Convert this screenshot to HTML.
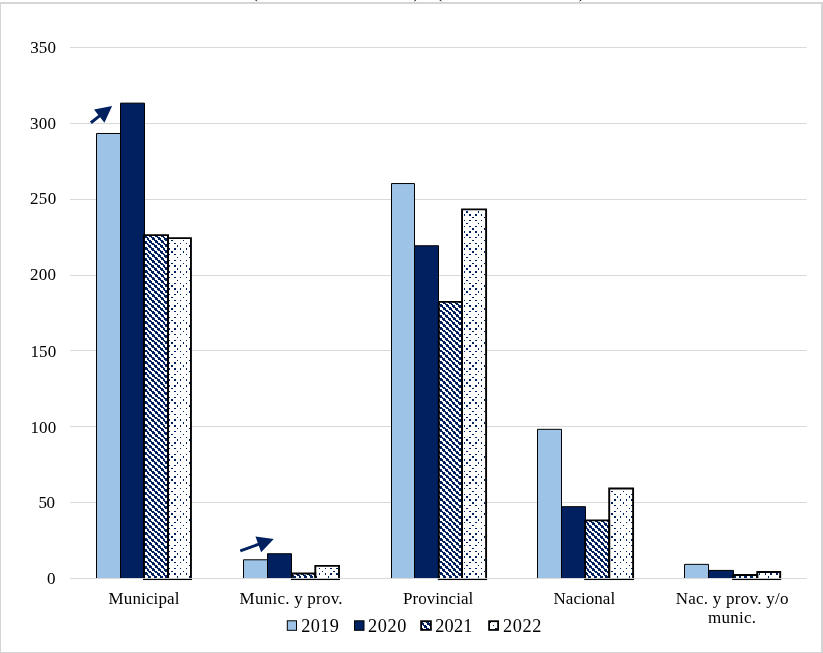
<!DOCTYPE html>
<html lang="es"><head><meta charset="utf-8"><title>Gráfico</title>
<style>
html,body{margin:0;padding:0;background:#fff;}
body{width:823px;height:653px;overflow:hidden;}
svg{display:block;}
text{font-family:"Liberation Serif","Times New Roman",serif;fill:#000;}
</style></head><body>
<svg width="823" height="653" viewBox="0 0 823 653">


<rect x="0" y="0" width="823" height="653" fill="#fff"/>
<g fill="#d5d5d5"><rect x="0" y="2" width="823" height="2"/><rect x="0" y="2" width="1" height="651"/><rect x="821" y="2" width="2" height="651"/><rect x="0" y="652" width="823" height="1"/></g>

<rect x="70" y="578" width="736.7" height="1" fill="#d9d9d9"/>
<text x="46.9" y="584" font-size="17">0</text>
<rect x="70" y="502" width="736.7" height="1" fill="#d9d9d9"/>
<text x="38.40" y="508.00" font-size="17" textLength="16.60" lengthAdjust="spacing">50</text>
<rect x="70" y="426" width="736.7" height="1" fill="#d9d9d9"/>
<text x="30.40" y="433.00" font-size="17" textLength="25.80" lengthAdjust="spacing">100</text>
<rect x="70" y="350" width="736.7" height="1" fill="#d9d9d9"/>
<text x="30.40" y="357.00" font-size="17" textLength="25.80" lengthAdjust="spacing">150</text>
<rect x="70" y="275" width="736.7" height="1" fill="#d9d9d9"/>
<text x="29.90" y="280.00" font-size="17" textLength="26.20" lengthAdjust="spacing">200</text>
<rect x="70" y="199" width="736.7" height="1" fill="#d9d9d9"/>
<text x="29.90" y="204.00" font-size="17" textLength="26.30" lengthAdjust="spacing">250</text>
<rect x="70" y="123" width="736.7" height="1" fill="#d9d9d9"/>
<text x="30.10" y="129.00" font-size="17" textLength="26.00" lengthAdjust="spacing">300</text>
<rect x="70" y="47" width="736.7" height="1" fill="#d9d9d9"/>
<text x="30.20" y="53.00" font-size="17" textLength="25.80" lengthAdjust="spacing">350</text>
<rect x="96.5" y="133.48" width="24" height="444.52" fill="#9dc3e6"/>
<rect x="120.5" y="103.13" width="24.0" height="474.87" fill="#002060"/>
<path d="M96.5,578 V133.48 H120.5 V578" fill="none" stroke="#000" stroke-width="1"/>
<path d="M120.5,578 V103.13 H144.5 V578" fill="none" stroke="#000" stroke-width="1"/>
<rect x="144.0" y="235.13" width="24.05" height="342.87" fill="#fff"/>
<path fill="#002060" shape-rendering="crispEdges" d="M144 235h1v1h-1zM148 235h3v1h-3zM154 235h3v1h-3zM160 235h3v1h-3zM165 235h3v1h-3zM144 236h3v1h-3zM149 236h3v1h-3zM155 236h3v1h-3zM161 236h3v1h-3zM167 236h2v1h-2zM145 237h3v1h-3zM151 237h3v1h-3zM157 237h3v1h-3zM163 237h2v1h-2zM168 237h1v1h-1zM147 238h2v2h-2zM152 238h3v2h-3zM158 238h3v2h-3zM164 238h3v2h-3zM144 240h1v1h-1zM148 240h3v1h-3zM154 240h3v1h-3zM160 240h3v1h-3zM165 240h3v1h-3zM144 241h3v2h-3zM149 241h3v2h-3zM155 241h3v2h-3zM161 241h3v2h-3zM167 241h2v2h-2zM145 243h3v1h-3zM151 243h3v1h-3zM157 243h3v1h-3zM163 243h2v1h-2zM168 243h1v1h-1zM147 244h2v1h-2zM152 244h3v1h-3zM158 244h3v1h-3zM164 244h3v1h-3zM144 245h1v2h-1zM148 245h3v2h-3zM154 245h3v2h-3zM160 245h3v2h-3zM165 245h3v2h-3zM144 247h3v1h-3zM149 247h3v1h-3zM155 247h3v1h-3zM161 247h3v1h-3zM167 247h2v1h-2zM145 248h3v2h-3zM151 248h3v2h-3zM157 248h3v2h-3zM163 248h2v2h-2zM168 248h1v2h-1zM147 250h2v1h-2zM152 250h3v1h-3zM158 250h3v1h-3zM164 250h3v1h-3zM144 251h1v2h-1zM148 251h3v2h-3zM154 251h3v2h-3zM160 251h3v2h-3zM165 251h3v2h-3zM144 253h3v1h-3zM149 253h3v1h-3zM155 253h3v1h-3zM161 253h3v1h-3zM167 253h2v1h-2zM145 254h3v1h-3zM151 254h3v1h-3zM157 254h3v1h-3zM163 254h2v1h-2zM168 254h1v1h-1zM147 255h2v2h-2zM152 255h3v2h-3zM158 255h3v2h-3zM164 255h3v2h-3zM144 257h1v1h-1zM148 257h3v1h-3zM154 257h3v1h-3zM160 257h3v1h-3zM165 257h3v1h-3zM144 258h3v2h-3zM149 258h3v2h-3zM155 258h3v2h-3zM161 258h3v2h-3zM167 258h2v2h-2zM145 260h3v1h-3zM151 260h3v1h-3zM157 260h3v1h-3zM163 260h2v1h-2zM168 260h1v1h-1zM147 261h2v2h-2zM152 261h3v2h-3zM158 261h3v2h-3zM164 261h3v2h-3zM144 263h1v1h-1zM148 263h3v1h-3zM154 263h3v1h-3zM160 263h3v1h-3zM165 263h3v1h-3zM144 264h3v1h-3zM149 264h3v1h-3zM155 264h3v1h-3zM161 264h3v1h-3zM167 264h2v1h-2zM145 265h3v2h-3zM151 265h3v2h-3zM157 265h3v2h-3zM163 265h2v2h-2zM168 265h1v2h-1zM147 267h2v1h-2zM152 267h3v1h-3zM158 267h3v1h-3zM164 267h3v1h-3zM144 268h1v2h-1zM148 268h3v2h-3zM154 268h3v2h-3zM160 268h3v2h-3zM165 268h3v2h-3zM144 270h3v1h-3zM149 270h3v1h-3zM155 270h3v1h-3zM161 270h3v1h-3zM167 270h2v1h-2zM145 271h3v2h-3zM151 271h3v2h-3zM157 271h3v2h-3zM163 271h2v2h-2zM168 271h1v2h-1zM147 273h2v1h-2zM152 273h3v1h-3zM158 273h3v1h-3zM164 273h3v1h-3zM144 274h1v1h-1zM148 274h3v1h-3zM154 274h3v1h-3zM160 274h3v1h-3zM165 274h3v1h-3zM144 275h3v2h-3zM149 275h3v2h-3zM155 275h3v2h-3zM161 275h3v2h-3zM167 275h2v2h-2zM145 277h3v1h-3zM151 277h3v1h-3zM157 277h3v1h-3zM163 277h2v1h-2zM168 277h1v1h-1zM147 278h2v2h-2zM152 278h3v2h-3zM158 278h3v2h-3zM164 278h3v2h-3zM144 280h1v1h-1zM148 280h3v1h-3zM154 280h3v1h-3zM160 280h3v1h-3zM165 280h3v1h-3zM144 281h3v2h-3zM149 281h3v2h-3zM155 281h3v2h-3zM161 281h3v2h-3zM167 281h2v2h-2zM145 283h3v1h-3zM151 283h3v1h-3zM157 283h3v1h-3zM163 283h2v1h-2zM168 283h1v1h-1zM147 284h2v1h-2zM152 284h3v1h-3zM158 284h3v1h-3zM164 284h3v1h-3zM144 285h1v2h-1zM148 285h3v2h-3zM154 285h3v2h-3zM160 285h3v2h-3zM165 285h3v2h-3zM144 287h3v1h-3zM149 287h3v1h-3zM155 287h3v1h-3zM161 287h3v1h-3zM167 287h2v1h-2zM145 288h3v2h-3zM151 288h3v2h-3zM157 288h3v2h-3zM163 288h2v2h-2zM168 288h1v2h-1zM147 290h2v1h-2zM152 290h3v1h-3zM158 290h3v1h-3zM164 290h3v1h-3zM144 291h1v2h-1zM148 291h3v2h-3zM154 291h3v2h-3zM160 291h3v2h-3zM165 291h3v2h-3zM144 293h3v1h-3zM149 293h3v1h-3zM155 293h3v1h-3zM161 293h3v1h-3zM167 293h2v1h-2zM145 294h3v1h-3zM151 294h3v1h-3zM157 294h3v1h-3zM163 294h2v1h-2zM168 294h1v1h-1zM147 295h2v2h-2zM152 295h3v2h-3zM158 295h3v2h-3zM164 295h3v2h-3zM144 297h1v1h-1zM148 297h3v1h-3zM154 297h3v1h-3zM160 297h3v1h-3zM165 297h3v1h-3zM144 298h3v2h-3zM149 298h3v2h-3zM155 298h3v2h-3zM161 298h3v2h-3zM167 298h2v2h-2zM145 300h3v1h-3zM151 300h3v1h-3zM157 300h3v1h-3zM163 300h2v1h-2zM168 300h1v1h-1zM147 301h2v2h-2zM152 301h3v2h-3zM158 301h3v2h-3zM164 301h3v2h-3zM144 303h1v1h-1zM148 303h3v1h-3zM154 303h3v1h-3zM160 303h3v1h-3zM165 303h3v1h-3zM144 304h3v1h-3zM149 304h3v1h-3zM155 304h3v1h-3zM161 304h3v1h-3zM167 304h2v1h-2zM145 305h3v2h-3zM151 305h3v2h-3zM157 305h3v2h-3zM163 305h2v2h-2zM168 305h1v2h-1zM147 307h2v1h-2zM152 307h3v1h-3zM158 307h3v1h-3zM164 307h3v1h-3zM144 308h1v2h-1zM148 308h3v2h-3zM154 308h3v2h-3zM160 308h3v2h-3zM165 308h3v2h-3zM144 310h3v1h-3zM149 310h3v1h-3zM155 310h3v1h-3zM161 310h3v1h-3zM167 310h2v1h-2zM145 311h3v1h-3zM151 311h3v1h-3zM157 311h3v1h-3zM163 311h2v1h-2zM168 311h1v1h-1zM147 312h2v2h-2zM152 312h3v2h-3zM158 312h3v2h-3zM164 312h3v2h-3zM144 314h1v1h-1zM148 314h3v1h-3zM154 314h3v1h-3zM160 314h3v1h-3zM165 314h3v1h-3zM144 315h3v2h-3zM149 315h3v2h-3zM155 315h3v2h-3zM161 315h3v2h-3zM167 315h2v2h-2zM145 317h3v1h-3zM151 317h3v1h-3zM157 317h3v1h-3zM163 317h2v1h-2zM168 317h1v1h-1zM147 318h2v2h-2zM152 318h3v2h-3zM158 318h3v2h-3zM164 318h3v2h-3zM144 320h1v1h-1zM148 320h3v1h-3zM154 320h3v1h-3zM160 320h3v1h-3zM165 320h3v1h-3zM144 321h3v1h-3zM149 321h3v1h-3zM155 321h3v1h-3zM161 321h3v1h-3zM167 321h2v1h-2zM145 322h3v2h-3zM151 322h3v2h-3zM157 322h3v2h-3zM163 322h2v2h-2zM168 322h1v2h-1zM147 324h2v1h-2zM152 324h3v1h-3zM158 324h3v1h-3zM164 324h3v1h-3zM144 325h1v2h-1zM148 325h3v2h-3zM154 325h3v2h-3zM160 325h3v2h-3zM165 325h3v2h-3zM144 327h3v1h-3zM149 327h3v1h-3zM155 327h3v1h-3zM161 327h3v1h-3zM167 327h2v1h-2zM145 328h3v2h-3zM151 328h3v2h-3zM157 328h3v2h-3zM163 328h2v2h-2zM168 328h1v2h-1zM147 330h2v1h-2zM152 330h3v1h-3zM158 330h3v1h-3zM164 330h3v1h-3zM144 331h1v1h-1zM148 331h3v1h-3zM154 331h3v1h-3zM160 331h3v1h-3zM165 331h3v1h-3zM144 332h3v2h-3zM149 332h3v2h-3zM155 332h3v2h-3zM161 332h3v2h-3zM167 332h2v2h-2zM145 334h3v1h-3zM151 334h3v1h-3zM157 334h3v1h-3zM163 334h2v1h-2zM168 334h1v1h-1zM147 335h2v2h-2zM152 335h3v2h-3zM158 335h3v2h-3zM164 335h3v2h-3zM144 337h1v1h-1zM148 337h3v1h-3zM154 337h3v1h-3zM160 337h3v1h-3zM165 337h3v1h-3zM144 338h3v2h-3zM149 338h3v2h-3zM155 338h3v2h-3zM161 338h3v2h-3zM167 338h2v2h-2zM145 340h3v1h-3zM151 340h3v1h-3zM157 340h3v1h-3zM163 340h2v1h-2zM168 340h1v1h-1zM147 341h2v1h-2zM152 341h3v1h-3zM158 341h3v1h-3zM164 341h3v1h-3zM144 342h1v2h-1zM148 342h3v2h-3zM154 342h3v2h-3zM160 342h3v2h-3zM165 342h3v2h-3zM144 344h3v1h-3zM149 344h3v1h-3zM155 344h3v1h-3zM161 344h3v1h-3zM167 344h2v1h-2zM145 345h3v2h-3zM151 345h3v2h-3zM157 345h3v2h-3zM163 345h2v2h-2zM168 345h1v2h-1zM147 347h2v1h-2zM152 347h3v1h-3zM158 347h3v1h-3zM164 347h3v1h-3zM144 348h1v2h-1zM148 348h3v2h-3zM154 348h3v2h-3zM160 348h3v2h-3zM165 348h3v2h-3zM144 350h3v1h-3zM149 350h3v1h-3zM155 350h3v1h-3zM161 350h3v1h-3zM167 350h2v1h-2zM145 351h3v1h-3zM151 351h3v1h-3zM157 351h3v1h-3zM163 351h2v1h-2zM168 351h1v1h-1zM147 352h2v2h-2zM152 352h3v2h-3zM158 352h3v2h-3zM164 352h3v2h-3zM144 354h1v1h-1zM148 354h3v1h-3zM154 354h3v1h-3zM160 354h3v1h-3zM165 354h3v1h-3zM144 355h3v2h-3zM149 355h3v2h-3zM155 355h3v2h-3zM161 355h3v2h-3zM167 355h2v2h-2zM145 357h3v1h-3zM151 357h3v1h-3zM157 357h3v1h-3zM163 357h2v1h-2zM168 357h1v1h-1zM147 358h2v2h-2zM152 358h3v2h-3zM158 358h3v2h-3zM164 358h3v2h-3zM144 360h1v1h-1zM148 360h3v1h-3zM154 360h3v1h-3zM160 360h3v1h-3zM165 360h3v1h-3zM144 361h3v1h-3zM149 361h3v1h-3zM155 361h3v1h-3zM161 361h3v1h-3zM167 361h2v1h-2zM145 362h3v2h-3zM151 362h3v2h-3zM157 362h3v2h-3zM163 362h2v2h-2zM168 362h1v2h-1zM147 364h2v1h-2zM152 364h3v1h-3zM158 364h3v1h-3zM164 364h3v1h-3zM144 365h1v2h-1zM148 365h3v2h-3zM154 365h3v2h-3zM160 365h3v2h-3zM165 365h3v2h-3zM144 367h3v1h-3zM149 367h3v1h-3zM155 367h3v1h-3zM161 367h3v1h-3zM167 367h2v1h-2zM145 368h3v2h-3zM151 368h3v2h-3zM157 368h3v2h-3zM163 368h2v2h-2zM168 368h1v2h-1zM147 370h2v1h-2zM152 370h3v1h-3zM158 370h3v1h-3zM164 370h3v1h-3zM144 371h1v1h-1zM148 371h3v1h-3zM154 371h3v1h-3zM160 371h3v1h-3zM165 371h3v1h-3zM144 372h3v2h-3zM149 372h3v2h-3zM155 372h3v2h-3zM161 372h3v2h-3zM167 372h2v2h-2zM145 374h3v1h-3zM151 374h3v1h-3zM157 374h3v1h-3zM163 374h2v1h-2zM168 374h1v1h-1zM147 375h2v2h-2zM152 375h3v2h-3zM158 375h3v2h-3zM164 375h3v2h-3zM144 377h1v1h-1zM148 377h3v1h-3zM154 377h3v1h-3zM160 377h3v1h-3zM165 377h3v1h-3zM144 378h3v1h-3zM149 378h3v1h-3zM155 378h3v1h-3zM161 378h3v1h-3zM167 378h2v1h-2zM145 379h3v2h-3zM151 379h3v2h-3zM157 379h3v2h-3zM163 379h2v2h-2zM168 379h1v2h-1zM147 381h2v1h-2zM152 381h3v1h-3zM158 381h3v1h-3zM164 381h3v1h-3zM144 382h1v2h-1zM148 382h3v2h-3zM154 382h3v2h-3zM160 382h3v2h-3zM165 382h3v2h-3zM144 384h3v1h-3zM149 384h3v1h-3zM155 384h3v1h-3zM161 384h3v1h-3zM167 384h2v1h-2zM145 385h3v2h-3zM151 385h3v2h-3zM157 385h3v2h-3zM163 385h2v2h-2zM168 385h1v2h-1zM147 387h2v1h-2zM152 387h3v1h-3zM158 387h3v1h-3zM164 387h3v1h-3zM144 388h1v1h-1zM148 388h3v1h-3zM154 388h3v1h-3zM160 388h3v1h-3zM165 388h3v1h-3zM144 389h3v2h-3zM149 389h3v2h-3zM155 389h3v2h-3zM161 389h3v2h-3zM167 389h2v2h-2zM145 391h3v1h-3zM151 391h3v1h-3zM157 391h3v1h-3zM163 391h2v1h-2zM168 391h1v1h-1zM147 392h2v2h-2zM152 392h3v2h-3zM158 392h3v2h-3zM164 392h3v2h-3zM144 394h1v1h-1zM148 394h3v1h-3zM154 394h3v1h-3zM160 394h3v1h-3zM165 394h3v1h-3zM144 395h3v2h-3zM149 395h3v2h-3zM155 395h3v2h-3zM161 395h3v2h-3zM167 395h2v2h-2zM145 397h3v1h-3zM151 397h3v1h-3zM157 397h3v1h-3zM163 397h2v1h-2zM168 397h1v1h-1zM147 398h2v1h-2zM152 398h3v1h-3zM158 398h3v1h-3zM164 398h3v1h-3zM144 399h1v2h-1zM148 399h3v2h-3zM154 399h3v2h-3zM160 399h3v2h-3zM165 399h3v2h-3zM144 401h3v1h-3zM149 401h3v1h-3zM155 401h3v1h-3zM161 401h3v1h-3zM167 401h2v1h-2zM145 402h3v2h-3zM151 402h3v2h-3zM157 402h3v2h-3zM163 402h2v2h-2zM168 402h1v2h-1zM147 404h2v1h-2zM152 404h3v1h-3zM158 404h3v1h-3zM164 404h3v1h-3zM144 405h1v2h-1zM148 405h3v2h-3zM154 405h3v2h-3zM160 405h3v2h-3zM165 405h3v2h-3zM144 407h3v1h-3zM149 407h3v1h-3zM155 407h3v1h-3zM161 407h3v1h-3zM167 407h2v1h-2zM145 408h3v1h-3zM151 408h3v1h-3zM157 408h3v1h-3zM163 408h2v1h-2zM168 408h1v1h-1zM147 409h2v2h-2zM152 409h3v2h-3zM158 409h3v2h-3zM164 409h3v2h-3zM144 411h1v1h-1zM148 411h3v1h-3zM154 411h3v1h-3zM160 411h3v1h-3zM165 411h3v1h-3zM144 412h3v2h-3zM149 412h3v2h-3zM155 412h3v2h-3zM161 412h3v2h-3zM167 412h2v2h-2zM145 414h3v1h-3zM151 414h3v1h-3zM157 414h3v1h-3zM163 414h2v1h-2zM168 414h1v1h-1zM147 415h2v2h-2zM152 415h3v2h-3zM158 415h3v2h-3zM164 415h3v2h-3zM144 417h1v1h-1zM148 417h3v1h-3zM154 417h3v1h-3zM160 417h3v1h-3zM165 417h3v1h-3zM144 418h3v1h-3zM149 418h3v1h-3zM155 418h3v1h-3zM161 418h3v1h-3zM167 418h2v1h-2zM145 419h3v2h-3zM151 419h3v2h-3zM157 419h3v2h-3zM163 419h2v2h-2zM168 419h1v2h-1zM147 421h2v1h-2zM152 421h3v1h-3zM158 421h3v1h-3zM164 421h3v1h-3zM144 422h1v2h-1zM148 422h3v2h-3zM154 422h3v2h-3zM160 422h3v2h-3zM165 422h3v2h-3zM144 424h3v1h-3zM149 424h3v1h-3zM155 424h3v1h-3zM161 424h3v1h-3zM167 424h2v1h-2zM145 425h3v2h-3zM151 425h3v2h-3zM157 425h3v2h-3zM163 425h2v2h-2zM168 425h1v2h-1zM147 427h2v1h-2zM152 427h3v1h-3zM158 427h3v1h-3zM164 427h3v1h-3zM144 428h1v1h-1zM148 428h3v1h-3zM154 428h3v1h-3zM160 428h3v1h-3zM165 428h3v1h-3zM144 429h3v2h-3zM149 429h3v2h-3zM155 429h3v2h-3zM161 429h3v2h-3zM167 429h2v2h-2zM145 431h3v1h-3zM151 431h3v1h-3zM157 431h3v1h-3zM163 431h2v1h-2zM168 431h1v1h-1zM147 432h2v2h-2zM152 432h3v2h-3zM158 432h3v2h-3zM164 432h3v2h-3zM144 434h1v1h-1zM148 434h3v1h-3zM154 434h3v1h-3zM160 434h3v1h-3zM165 434h3v1h-3zM144 435h3v2h-3zM149 435h3v2h-3zM155 435h3v2h-3zM161 435h3v2h-3zM167 435h2v2h-2zM145 437h3v1h-3zM151 437h3v1h-3zM157 437h3v1h-3zM163 437h2v1h-2zM168 437h1v1h-1zM147 438h2v1h-2zM152 438h3v1h-3zM158 438h3v1h-3zM164 438h3v1h-3zM144 439h1v2h-1zM148 439h3v2h-3zM154 439h3v2h-3zM160 439h3v2h-3zM165 439h3v2h-3zM144 441h3v1h-3zM149 441h3v1h-3zM155 441h3v1h-3zM161 441h3v1h-3zM167 441h2v1h-2zM145 442h3v2h-3zM151 442h3v2h-3zM157 442h3v2h-3zM163 442h2v2h-2zM168 442h1v2h-1zM147 444h2v1h-2zM152 444h3v1h-3zM158 444h3v1h-3zM164 444h3v1h-3zM144 445h1v1h-1zM148 445h3v1h-3zM154 445h3v1h-3zM160 445h3v1h-3zM165 445h3v1h-3zM144 446h3v2h-3zM149 446h3v2h-3zM155 446h3v2h-3zM161 446h3v2h-3zM167 446h2v2h-2zM145 448h3v1h-3zM151 448h3v1h-3zM157 448h3v1h-3zM163 448h2v1h-2zM168 448h1v1h-1zM147 449h2v2h-2zM152 449h3v2h-3zM158 449h3v2h-3zM164 449h3v2h-3zM144 451h1v1h-1zM148 451h3v1h-3zM154 451h3v1h-3zM160 451h3v1h-3zM165 451h3v1h-3zM144 452h3v2h-3zM149 452h3v2h-3zM155 452h3v2h-3zM161 452h3v2h-3zM167 452h2v2h-2zM145 454h3v1h-3zM151 454h3v1h-3zM157 454h3v1h-3zM163 454h2v1h-2zM168 454h1v1h-1zM147 455h2v1h-2zM152 455h3v1h-3zM158 455h3v1h-3zM164 455h3v1h-3zM144 456h1v2h-1zM148 456h3v2h-3zM154 456h3v2h-3zM160 456h3v2h-3zM165 456h3v2h-3zM144 458h3v1h-3zM149 458h3v1h-3zM155 458h3v1h-3zM161 458h3v1h-3zM167 458h2v1h-2zM145 459h3v2h-3zM151 459h3v2h-3zM157 459h3v2h-3zM163 459h2v2h-2zM168 459h1v2h-1zM147 461h2v1h-2zM152 461h3v1h-3zM158 461h3v1h-3zM164 461h3v1h-3zM144 462h1v2h-1zM148 462h3v2h-3zM154 462h3v2h-3zM160 462h3v2h-3zM165 462h3v2h-3zM144 464h3v1h-3zM149 464h3v1h-3zM155 464h3v1h-3zM161 464h3v1h-3zM167 464h2v1h-2zM145 465h3v1h-3zM151 465h3v1h-3zM157 465h3v1h-3zM163 465h2v1h-2zM168 465h1v1h-1zM147 466h2v2h-2zM152 466h3v2h-3zM158 466h3v2h-3zM164 466h3v2h-3zM144 468h1v1h-1zM148 468h3v1h-3zM154 468h3v1h-3zM160 468h3v1h-3zM165 468h3v1h-3zM144 469h3v2h-3zM149 469h3v2h-3zM155 469h3v2h-3zM161 469h3v2h-3zM167 469h2v2h-2zM145 471h3v1h-3zM151 471h3v1h-3zM157 471h3v1h-3zM163 471h2v1h-2zM168 471h1v1h-1zM147 472h2v2h-2zM152 472h3v2h-3zM158 472h3v2h-3zM164 472h3v2h-3zM144 474h1v1h-1zM148 474h3v1h-3zM154 474h3v1h-3zM160 474h3v1h-3zM165 474h3v1h-3zM144 475h3v1h-3zM149 475h3v1h-3zM155 475h3v1h-3zM161 475h3v1h-3zM167 475h2v1h-2zM145 476h3v2h-3zM151 476h3v2h-3zM157 476h3v2h-3zM163 476h2v2h-2zM168 476h1v2h-1zM147 478h2v1h-2zM152 478h3v1h-3zM158 478h3v1h-3zM164 478h3v1h-3zM144 479h1v2h-1zM148 479h3v2h-3zM154 479h3v2h-3zM160 479h3v2h-3zM165 479h3v2h-3zM144 481h3v1h-3zM149 481h3v1h-3zM155 481h3v1h-3zM161 481h3v1h-3zM167 481h2v1h-2zM145 482h3v2h-3zM151 482h3v2h-3zM157 482h3v2h-3zM163 482h2v2h-2zM168 482h1v2h-1zM147 484h2v1h-2zM152 484h3v1h-3zM158 484h3v1h-3zM164 484h3v1h-3zM144 485h1v1h-1zM148 485h3v1h-3zM154 485h3v1h-3zM160 485h3v1h-3zM165 485h3v1h-3zM144 486h3v2h-3zM149 486h3v2h-3zM155 486h3v2h-3zM161 486h3v2h-3zM167 486h2v2h-2zM145 488h3v1h-3zM151 488h3v1h-3zM157 488h3v1h-3zM163 488h2v1h-2zM168 488h1v1h-1zM147 489h2v2h-2zM152 489h3v2h-3zM158 489h3v2h-3zM164 489h3v2h-3zM144 491h1v1h-1zM148 491h3v1h-3zM154 491h3v1h-3zM160 491h3v1h-3zM165 491h3v1h-3zM144 492h3v2h-3zM149 492h3v2h-3zM155 492h3v2h-3zM161 492h3v2h-3zM167 492h2v2h-2zM145 494h3v1h-3zM151 494h3v1h-3zM157 494h3v1h-3zM163 494h2v1h-2zM168 494h1v1h-1zM147 495h2v1h-2zM152 495h3v1h-3zM158 495h3v1h-3zM164 495h3v1h-3zM144 496h1v2h-1zM148 496h3v2h-3zM154 496h3v2h-3zM160 496h3v2h-3zM165 496h3v2h-3zM144 498h3v1h-3zM149 498h3v1h-3zM155 498h3v1h-3zM161 498h3v1h-3zM167 498h2v1h-2zM145 499h3v2h-3zM151 499h3v2h-3zM157 499h3v2h-3zM163 499h2v2h-2zM168 499h1v2h-1zM147 501h2v1h-2zM152 501h3v1h-3zM158 501h3v1h-3zM164 501h3v1h-3zM144 502h1v2h-1zM148 502h3v2h-3zM154 502h3v2h-3zM160 502h3v2h-3zM165 502h3v2h-3zM144 504h3v1h-3zM149 504h3v1h-3zM155 504h3v1h-3zM161 504h3v1h-3zM167 504h2v1h-2zM145 505h3v1h-3zM151 505h3v1h-3zM157 505h3v1h-3zM163 505h2v1h-2zM168 505h1v1h-1zM147 506h2v2h-2zM152 506h3v2h-3zM158 506h3v2h-3zM164 506h3v2h-3zM144 508h1v1h-1zM148 508h3v1h-3zM154 508h3v1h-3zM160 508h3v1h-3zM165 508h3v1h-3zM144 509h3v2h-3zM149 509h3v2h-3zM155 509h3v2h-3zM161 509h3v2h-3zM167 509h2v2h-2zM145 511h3v1h-3zM151 511h3v1h-3zM157 511h3v1h-3zM163 511h2v1h-2zM168 511h1v1h-1zM147 512h2v1h-2zM152 512h3v1h-3zM158 512h3v1h-3zM164 512h3v1h-3zM144 513h1v2h-1zM148 513h3v2h-3zM154 513h3v2h-3zM160 513h3v2h-3zM165 513h3v2h-3zM144 515h3v1h-3zM149 515h3v1h-3zM155 515h3v1h-3zM161 515h3v1h-3zM167 515h2v1h-2zM145 516h3v2h-3zM151 516h3v2h-3zM157 516h3v2h-3zM163 516h2v2h-2zM168 516h1v2h-1zM147 518h2v1h-2zM152 518h3v1h-3zM158 518h3v1h-3zM164 518h3v1h-3zM144 519h1v2h-1zM148 519h3v2h-3zM154 519h3v2h-3zM160 519h3v2h-3zM165 519h3v2h-3zM144 521h3v1h-3zM149 521h3v1h-3zM155 521h3v1h-3zM161 521h3v1h-3zM167 521h2v1h-2zM145 522h3v1h-3zM151 522h3v1h-3zM157 522h3v1h-3zM163 522h2v1h-2zM168 522h1v1h-1zM147 523h2v2h-2zM152 523h3v2h-3zM158 523h3v2h-3zM164 523h3v2h-3zM144 525h1v1h-1zM148 525h3v1h-3zM154 525h3v1h-3zM160 525h3v1h-3zM165 525h3v1h-3zM144 526h3v2h-3zM149 526h3v2h-3zM155 526h3v2h-3zM161 526h3v2h-3zM167 526h2v2h-2zM145 528h3v1h-3zM151 528h3v1h-3zM157 528h3v1h-3zM163 528h2v1h-2zM168 528h1v1h-1zM147 529h2v2h-2zM152 529h3v2h-3zM158 529h3v2h-3zM164 529h3v2h-3zM144 531h1v1h-1zM148 531h3v1h-3zM154 531h3v1h-3zM160 531h3v1h-3zM165 531h3v1h-3zM144 532h3v1h-3zM149 532h3v1h-3zM155 532h3v1h-3zM161 532h3v1h-3zM167 532h2v1h-2zM145 533h3v2h-3zM151 533h3v2h-3zM157 533h3v2h-3zM163 533h2v2h-2zM168 533h1v2h-1zM147 535h2v1h-2zM152 535h3v1h-3zM158 535h3v1h-3zM164 535h3v1h-3zM144 536h1v2h-1zM148 536h3v2h-3zM154 536h3v2h-3zM160 536h3v2h-3zM165 536h3v2h-3zM144 538h3v1h-3zM149 538h3v1h-3zM155 538h3v1h-3zM161 538h3v1h-3zM167 538h2v1h-2zM145 539h3v2h-3zM151 539h3v2h-3zM157 539h3v2h-3zM163 539h2v2h-2zM168 539h1v2h-1zM147 541h2v1h-2zM152 541h3v1h-3zM158 541h3v1h-3zM164 541h3v1h-3zM144 542h1v1h-1zM148 542h3v1h-3zM154 542h3v1h-3zM160 542h3v1h-3zM165 542h3v1h-3zM144 543h3v2h-3zM149 543h3v2h-3zM155 543h3v2h-3zM161 543h3v2h-3zM167 543h2v2h-2zM145 545h3v1h-3zM151 545h3v1h-3zM157 545h3v1h-3zM163 545h2v1h-2zM168 545h1v1h-1zM147 546h2v2h-2zM152 546h3v2h-3zM158 546h3v2h-3zM164 546h3v2h-3zM144 548h1v1h-1zM148 548h3v1h-3zM154 548h3v1h-3zM160 548h3v1h-3zM165 548h3v1h-3zM144 549h3v2h-3zM149 549h3v2h-3zM155 549h3v2h-3zM161 549h3v2h-3zM167 549h2v2h-2zM145 551h3v1h-3zM151 551h3v1h-3zM157 551h3v1h-3zM163 551h2v1h-2zM168 551h1v1h-1zM147 552h2v1h-2zM152 552h3v1h-3zM158 552h3v1h-3zM164 552h3v1h-3zM144 553h1v2h-1zM148 553h3v2h-3zM154 553h3v2h-3zM160 553h3v2h-3zM165 553h3v2h-3zM144 555h3v1h-3zM149 555h3v1h-3zM155 555h3v1h-3zM161 555h3v1h-3zM167 555h2v1h-2zM145 556h3v2h-3zM151 556h3v2h-3zM157 556h3v2h-3zM163 556h2v2h-2zM168 556h1v2h-1zM147 558h2v1h-2zM152 558h3v1h-3zM158 558h3v1h-3zM164 558h3v1h-3zM144 559h1v2h-1zM148 559h3v2h-3zM154 559h3v2h-3zM160 559h3v2h-3zM165 559h3v2h-3zM144 561h3v1h-3zM149 561h3v1h-3zM155 561h3v1h-3zM161 561h3v1h-3zM167 561h2v1h-2zM145 562h3v1h-3zM151 562h3v1h-3zM157 562h3v1h-3zM163 562h2v1h-2zM168 562h1v1h-1zM147 563h2v2h-2zM152 563h3v2h-3zM158 563h3v2h-3zM164 563h3v2h-3zM144 565h1v1h-1zM148 565h3v1h-3zM154 565h3v1h-3zM160 565h3v1h-3zM165 565h3v1h-3zM144 566h3v2h-3zM149 566h3v2h-3zM155 566h3v2h-3zM161 566h3v2h-3zM167 566h2v2h-2zM145 568h3v1h-3zM151 568h3v1h-3zM157 568h3v1h-3zM163 568h2v1h-2zM168 568h1v1h-1zM147 569h2v2h-2zM152 569h3v2h-3zM158 569h3v2h-3zM164 569h3v2h-3zM144 571h1v1h-1zM148 571h3v1h-3zM154 571h3v1h-3zM160 571h3v1h-3zM165 571h3v1h-3zM144 572h3v1h-3zM149 572h3v1h-3zM155 572h3v1h-3zM161 572h3v1h-3zM167 572h2v1h-2zM145 573h3v2h-3zM151 573h3v2h-3zM157 573h3v2h-3zM163 573h2v2h-2zM168 573h1v2h-1zM147 575h2v1h-2zM152 575h3v1h-3zM158 575h3v1h-3zM164 575h3v1h-3zM144 576h1v2h-1zM148 576h3v2h-3zM154 576h3v2h-3zM160 576h3v2h-3zM165 576h3v2h-3z"/>
<rect x="168.05" y="238.16" width="22.90" height="339.84" fill="#fff"/>
<path fill="#002060" shape-rendering="crispEdges" d="M171 240h2v1h-2zM183 240h1v1h-1zM168 243h2v1h-2zM174 243h2v1h-2zM180 243h1v1h-1zM186 243h1v1h-1zM177 245h1v2h-1zM189 245h1v2h-1zM168 248h2v2h-2zM174 248h2v2h-2zM180 248h1v2h-1zM186 248h1v2h-1zM171 251h2v2h-2zM183 251h1v2h-1zM168 254h2v1h-2zM174 254h2v1h-2zM180 254h1v1h-1zM186 254h1v1h-1zM177 257h1v1h-1zM189 257h1v1h-1zM168 260h2v1h-2zM174 260h2v1h-2zM180 260h1v1h-1zM186 260h1v1h-1zM171 263h2v1h-2zM183 263h1v1h-1zM168 265h2v2h-2zM174 265h2v2h-2zM180 265h1v2h-1zM186 265h1v2h-1zM177 268h1v2h-1zM189 268h1v2h-1zM168 271h2v2h-2zM174 271h2v2h-2zM180 271h1v2h-1zM186 271h1v2h-1zM171 274h2v1h-2zM183 274h1v1h-1zM168 277h2v1h-2zM174 277h2v1h-2zM180 277h1v1h-1zM186 277h1v1h-1zM177 280h1v1h-1zM189 280h1v1h-1zM168 283h2v1h-2zM174 283h2v1h-2zM180 283h1v1h-1zM186 283h1v1h-1zM171 285h2v2h-2zM183 285h1v2h-1zM168 288h2v2h-2zM174 288h2v2h-2zM180 288h1v2h-1zM186 288h1v2h-1zM177 291h1v2h-1zM189 291h1v2h-1zM168 294h2v1h-2zM174 294h2v1h-2zM180 294h1v1h-1zM186 294h1v1h-1zM171 297h2v1h-2zM183 297h1v1h-1zM168 300h2v1h-2zM174 300h2v1h-2zM180 300h1v1h-1zM186 300h1v1h-1zM177 303h1v1h-1zM189 303h1v1h-1zM168 305h2v2h-2zM174 305h2v2h-2zM180 305h1v2h-1zM186 305h1v2h-1zM171 308h2v2h-2zM183 308h1v2h-1zM168 311h2v1h-2zM174 311h2v1h-2zM180 311h1v1h-1zM186 311h1v1h-1zM177 314h1v1h-1zM189 314h1v1h-1zM168 317h2v1h-2zM174 317h2v1h-2zM180 317h1v1h-1zM186 317h1v1h-1zM171 320h2v1h-2zM183 320h1v1h-1zM168 322h2v2h-2zM174 322h2v2h-2zM180 322h1v2h-1zM186 322h1v2h-1zM177 325h1v2h-1zM189 325h1v2h-1zM168 328h2v2h-2zM174 328h2v2h-2zM180 328h1v2h-1zM186 328h1v2h-1zM171 331h2v1h-2zM183 331h1v1h-1zM168 334h2v1h-2zM174 334h2v1h-2zM180 334h1v1h-1zM186 334h1v1h-1zM177 337h1v1h-1zM189 337h1v1h-1zM168 340h2v1h-2zM174 340h2v1h-2zM180 340h1v1h-1zM186 340h1v1h-1zM171 342h2v2h-2zM183 342h1v2h-1zM168 345h2v2h-2zM174 345h2v2h-2zM180 345h1v2h-1zM186 345h1v2h-1zM177 348h1v2h-1zM189 348h1v2h-1zM168 351h2v1h-2zM174 351h2v1h-2zM180 351h1v1h-1zM186 351h1v1h-1zM171 354h2v1h-2zM183 354h1v1h-1zM168 357h2v1h-2zM174 357h2v1h-2zM180 357h1v1h-1zM186 357h1v1h-1zM177 360h1v1h-1zM189 360h1v1h-1zM168 362h2v2h-2zM174 362h2v2h-2zM180 362h1v2h-1zM186 362h1v2h-1zM171 365h2v2h-2zM183 365h1v2h-1zM168 368h2v2h-2zM174 368h2v2h-2zM180 368h1v2h-1zM186 368h1v2h-1zM177 371h1v1h-1zM189 371h1v1h-1zM168 374h2v1h-2zM174 374h2v1h-2zM180 374h1v1h-1zM186 374h1v1h-1zM171 377h2v1h-2zM183 377h1v1h-1zM168 379h2v2h-2zM174 379h2v2h-2zM180 379h1v2h-1zM186 379h1v2h-1zM177 382h1v2h-1zM189 382h1v2h-1zM168 385h2v2h-2zM174 385h2v2h-2zM180 385h1v2h-1zM186 385h1v2h-1zM171 388h2v1h-2zM183 388h1v1h-1zM168 391h2v1h-2zM174 391h2v1h-2zM180 391h1v1h-1zM186 391h1v1h-1zM177 394h1v1h-1zM189 394h1v1h-1zM168 397h2v1h-2zM174 397h2v1h-2zM180 397h1v1h-1zM186 397h1v1h-1zM171 399h2v2h-2zM183 399h1v2h-1zM168 402h2v2h-2zM174 402h2v2h-2zM180 402h1v2h-1zM186 402h1v2h-1zM177 405h1v2h-1zM189 405h1v2h-1zM168 408h2v1h-2zM174 408h2v1h-2zM180 408h1v1h-1zM186 408h1v1h-1zM171 411h2v1h-2zM183 411h1v1h-1zM168 414h2v1h-2zM174 414h2v1h-2zM180 414h1v1h-1zM186 414h1v1h-1zM177 417h1v1h-1zM189 417h1v1h-1zM168 419h2v2h-2zM174 419h2v2h-2zM180 419h1v2h-1zM186 419h1v2h-1zM171 422h2v2h-2zM183 422h1v2h-1zM168 425h2v2h-2zM174 425h2v2h-2zM180 425h1v2h-1zM186 425h1v2h-1zM177 428h1v1h-1zM189 428h1v1h-1zM168 431h2v1h-2zM174 431h2v1h-2zM180 431h1v1h-1zM186 431h1v1h-1zM171 434h2v1h-2zM183 434h1v1h-1zM168 437h2v1h-2zM174 437h2v1h-2zM180 437h1v1h-1zM186 437h1v1h-1zM177 439h1v2h-1zM189 439h1v2h-1zM168 442h2v2h-2zM174 442h2v2h-2zM180 442h1v2h-1zM186 442h1v2h-1zM171 445h2v1h-2zM183 445h1v1h-1zM168 448h2v1h-2zM174 448h2v1h-2zM180 448h1v1h-1zM186 448h1v1h-1zM177 451h1v1h-1zM189 451h1v1h-1zM168 454h2v1h-2zM174 454h2v1h-2zM180 454h1v1h-1zM186 454h1v1h-1zM171 456h2v2h-2zM183 456h1v2h-1zM168 459h2v2h-2zM174 459h2v2h-2zM180 459h1v2h-1zM186 459h1v2h-1zM177 462h1v2h-1zM189 462h1v2h-1zM168 465h2v1h-2zM174 465h2v1h-2zM180 465h1v1h-1zM186 465h1v1h-1zM171 468h2v1h-2zM183 468h1v1h-1zM168 471h2v1h-2zM174 471h2v1h-2zM180 471h1v1h-1zM186 471h1v1h-1zM177 474h1v1h-1zM189 474h1v1h-1zM168 476h2v2h-2zM174 476h2v2h-2zM180 476h1v2h-1zM186 476h1v2h-1zM171 479h2v2h-2zM183 479h1v2h-1zM168 482h2v2h-2zM174 482h2v2h-2zM180 482h1v2h-1zM186 482h1v2h-1zM177 485h1v1h-1zM189 485h1v1h-1zM168 488h2v1h-2zM174 488h2v1h-2zM180 488h1v1h-1zM186 488h1v1h-1zM171 491h2v1h-2zM183 491h1v1h-1zM168 494h2v1h-2zM174 494h2v1h-2zM180 494h1v1h-1zM186 494h1v1h-1zM177 496h1v2h-1zM189 496h1v2h-1zM168 499h2v2h-2zM174 499h2v2h-2zM180 499h1v2h-1zM186 499h1v2h-1zM171 502h2v2h-2zM183 502h1v2h-1zM168 505h2v1h-2zM174 505h2v1h-2zM180 505h1v1h-1zM186 505h1v1h-1zM177 508h1v1h-1zM189 508h1v1h-1zM168 511h2v1h-2zM174 511h2v1h-2zM180 511h1v1h-1zM186 511h1v1h-1zM171 513h2v2h-2zM183 513h1v2h-1zM168 516h2v2h-2zM174 516h2v2h-2zM180 516h1v2h-1zM186 516h1v2h-1zM177 519h1v2h-1zM189 519h1v2h-1zM168 522h2v1h-2zM174 522h2v1h-2zM180 522h1v1h-1zM186 522h1v1h-1zM171 525h2v1h-2zM183 525h1v1h-1zM168 528h2v1h-2zM174 528h2v1h-2zM180 528h1v1h-1zM186 528h1v1h-1zM177 531h1v1h-1zM189 531h1v1h-1zM168 533h2v2h-2zM174 533h2v2h-2zM180 533h1v2h-1zM186 533h1v2h-1zM171 536h2v2h-2zM183 536h1v2h-1zM168 539h2v2h-2zM174 539h2v2h-2zM180 539h1v2h-1zM186 539h1v2h-1zM177 542h1v1h-1zM189 542h1v1h-1zM168 545h2v1h-2zM174 545h2v1h-2zM180 545h1v1h-1zM186 545h1v1h-1zM171 548h2v1h-2zM183 548h1v1h-1zM168 551h2v1h-2zM174 551h2v1h-2zM180 551h1v1h-1zM186 551h1v1h-1zM177 553h1v2h-1zM189 553h1v2h-1zM168 556h2v2h-2zM174 556h2v2h-2zM180 556h1v2h-1zM186 556h1v2h-1zM171 559h2v2h-2zM183 559h1v2h-1zM168 562h2v1h-2zM174 562h2v1h-2zM180 562h1v1h-1zM186 562h1v1h-1zM177 565h1v1h-1zM189 565h1v1h-1zM168 568h2v1h-2zM174 568h2v1h-2zM180 568h1v1h-1zM186 568h1v1h-1zM171 571h2v1h-2zM183 571h1v1h-1zM168 573h2v2h-2zM174 573h2v2h-2zM180 573h1v2h-1zM186 573h1v2h-1zM177 576h1v2h-1zM189 576h1v2h-1z"/>
<path d="M144.0,578 V235.13 H168.05 V578" fill="none" stroke="#000" stroke-width="1.9"/>
<path d="M168.05,578 V238.16 H190.95 V578" fill="none" stroke="#000" stroke-width="1.9"/>
<rect x="143.00" y="578.9" width="48.95" height="1.15" fill="#000"/>
<text x="108.60" y="604.00" font-size="17" textLength="70.80" lengthAdjust="spacing">Municipal</text>
<rect x="243.5" y="559.79" width="24" height="18.21" fill="#9dc3e6"/>
<rect x="267.5" y="553.73" width="24.0" height="24.27" fill="#002060"/>
<path d="M243.5,578 V559.79 H267.5 V578" fill="none" stroke="#000" stroke-width="1"/>
<path d="M267.5,578 V553.73 H291.5 V578" fill="none" stroke="#000" stroke-width="1"/>
<rect x="291.95" y="573.45" width="23.35" height="4.55" fill="#fff"/>
<path fill="#002060" shape-rendering="crispEdges" d="M291 573h2v2h-2zM296 573h3v2h-3zM301 573h3v2h-3zM307 573h3v2h-3zM313 573h3v2h-3zM291 575h3v1h-3zM297 575h3v1h-3zM303 575h3v1h-3zM309 575h3v1h-3zM314 575h2v1h-2zM293 576h3v2h-3zM299 576h2v2h-2zM304 576h3v2h-3zM310 576h3v2h-3z"/>
<rect x="315.3" y="565.86" width="23.70" height="12.14" fill="#fff"/>
<path fill="#002060" shape-rendering="crispEdges" d="M316 565h1v1h-1zM328 565h1v1h-1zM319 568h1v1h-1zM325 568h1v1h-1zM330 568h2v1h-2zM336 568h2v1h-2zM322 571h1v1h-1zM333 571h2v1h-2zM319 573h1v2h-1zM325 573h1v2h-1zM330 573h2v2h-2zM336 573h2v2h-2zM316 576h1v2h-1zM328 576h1v2h-1z"/>
<path d="M291.95,578 V573.45 H315.3 V578" fill="none" stroke="#000" stroke-width="1.9"/>
<path d="M315.3,578 V565.86 H339.0 V578" fill="none" stroke="#000" stroke-width="1.9"/>
<rect x="290.95" y="578.9" width="49.05" height="1.15" fill="#000"/>
<text x="239.60" y="604.00" font-size="17" textLength="103.00" lengthAdjust="spacing">Munic. y prov.</text>
<rect x="391.5" y="183.54" width="23" height="394.46" fill="#9dc3e6"/>
<rect x="414.5" y="245.75" width="24.0" height="332.25" fill="#002060"/>
<path d="M391.5,578 V183.54 H414.5 V578" fill="none" stroke="#000" stroke-width="1"/>
<path d="M414.5,578 V245.75 H438.5 V578" fill="none" stroke="#000" stroke-width="1"/>
<rect x="438.8" y="301.88" width="23.25" height="276.12" fill="#fff"/>
<path fill="#002060" shape-rendering="crispEdges" d="M438 301h1v2h-1zM442 301h3v2h-3zM448 301h3v2h-3zM453 301h3v2h-3zM459 301h3v2h-3zM438 303h2v1h-2zM443 303h3v1h-3zM449 303h3v1h-3zM455 303h3v1h-3zM461 303h2v1h-2zM439 304h3v1h-3zM445 304h3v1h-3zM451 304h2v1h-2zM456 304h3v1h-3zM462 304h1v1h-1zM440 305h3v2h-3zM446 305h3v2h-3zM452 305h3v2h-3zM458 305h3v2h-3zM438 307h1v1h-1zM442 307h3v1h-3zM448 307h3v1h-3zM453 307h3v1h-3zM459 307h3v1h-3zM438 308h2v2h-2zM443 308h3v2h-3zM449 308h3v2h-3zM455 308h3v2h-3zM461 308h2v2h-2zM439 310h3v1h-3zM445 310h3v1h-3zM451 310h2v1h-2zM456 310h3v1h-3zM462 310h1v1h-1zM440 311h3v1h-3zM446 311h3v1h-3zM452 311h3v1h-3zM458 311h3v1h-3zM438 312h1v2h-1zM442 312h3v2h-3zM448 312h3v2h-3zM453 312h3v2h-3zM459 312h3v2h-3zM438 314h2v1h-2zM443 314h3v1h-3zM449 314h3v1h-3zM455 314h3v1h-3zM461 314h2v1h-2zM439 315h3v2h-3zM445 315h3v2h-3zM451 315h2v2h-2zM456 315h3v2h-3zM462 315h1v2h-1zM440 317h3v1h-3zM446 317h3v1h-3zM452 317h3v1h-3zM458 317h3v1h-3zM438 318h1v2h-1zM442 318h3v2h-3zM448 318h3v2h-3zM453 318h3v2h-3zM459 318h3v2h-3zM438 320h2v1h-2zM443 320h3v1h-3zM449 320h3v1h-3zM455 320h3v1h-3zM461 320h2v1h-2zM439 321h3v1h-3zM445 321h3v1h-3zM451 321h2v1h-2zM456 321h3v1h-3zM462 321h1v1h-1zM440 322h3v2h-3zM446 322h3v2h-3zM452 322h3v2h-3zM458 322h3v2h-3zM438 324h1v1h-1zM442 324h3v1h-3zM448 324h3v1h-3zM453 324h3v1h-3zM459 324h3v1h-3zM438 325h2v2h-2zM443 325h3v2h-3zM449 325h3v2h-3zM455 325h3v2h-3zM461 325h2v2h-2zM439 327h3v1h-3zM445 327h3v1h-3zM451 327h2v1h-2zM456 327h3v1h-3zM462 327h1v1h-1zM440 328h3v2h-3zM446 328h3v2h-3zM452 328h3v2h-3zM458 328h3v2h-3zM438 330h1v1h-1zM442 330h3v1h-3zM448 330h3v1h-3zM453 330h3v1h-3zM459 330h3v1h-3zM438 331h2v1h-2zM443 331h3v1h-3zM449 331h3v1h-3zM455 331h3v1h-3zM461 331h2v1h-2zM439 332h3v2h-3zM445 332h3v2h-3zM451 332h2v2h-2zM456 332h3v2h-3zM462 332h1v2h-1zM440 334h3v1h-3zM446 334h3v1h-3zM452 334h3v1h-3zM458 334h3v1h-3zM438 335h1v2h-1zM442 335h3v2h-3zM448 335h3v2h-3zM453 335h3v2h-3zM459 335h3v2h-3zM438 337h2v1h-2zM443 337h3v1h-3zM449 337h3v1h-3zM455 337h3v1h-3zM461 337h2v1h-2zM439 338h3v2h-3zM445 338h3v2h-3zM451 338h2v2h-2zM456 338h3v2h-3zM462 338h1v2h-1zM440 340h3v1h-3zM446 340h3v1h-3zM452 340h3v1h-3zM458 340h3v1h-3zM438 341h1v1h-1zM442 341h3v1h-3zM448 341h3v1h-3zM453 341h3v1h-3zM459 341h3v1h-3zM438 342h2v2h-2zM443 342h3v2h-3zM449 342h3v2h-3zM455 342h3v2h-3zM461 342h2v2h-2zM439 344h3v1h-3zM445 344h3v1h-3zM451 344h2v1h-2zM456 344h3v1h-3zM462 344h1v1h-1zM440 345h3v2h-3zM446 345h3v2h-3zM452 345h3v2h-3zM458 345h3v2h-3zM438 347h1v1h-1zM442 347h3v1h-3zM448 347h3v1h-3zM453 347h3v1h-3zM459 347h3v1h-3zM438 348h2v2h-2zM443 348h3v2h-3zM449 348h3v2h-3zM455 348h3v2h-3zM461 348h2v2h-2zM439 350h3v1h-3zM445 350h3v1h-3zM451 350h2v1h-2zM456 350h3v1h-3zM462 350h1v1h-1zM440 351h3v1h-3zM446 351h3v1h-3zM452 351h3v1h-3zM458 351h3v1h-3zM438 352h1v2h-1zM442 352h3v2h-3zM448 352h3v2h-3zM453 352h3v2h-3zM459 352h3v2h-3zM438 354h2v1h-2zM443 354h3v1h-3zM449 354h3v1h-3zM455 354h3v1h-3zM461 354h2v1h-2zM439 355h3v2h-3zM445 355h3v2h-3zM451 355h2v2h-2zM456 355h3v2h-3zM462 355h1v2h-1zM440 357h3v1h-3zM446 357h3v1h-3zM452 357h3v1h-3zM458 357h3v1h-3zM438 358h1v2h-1zM442 358h3v2h-3zM448 358h3v2h-3zM453 358h3v2h-3zM459 358h3v2h-3zM438 360h2v1h-2zM443 360h3v1h-3zM449 360h3v1h-3zM455 360h3v1h-3zM461 360h2v1h-2zM439 361h3v1h-3zM445 361h3v1h-3zM451 361h2v1h-2zM456 361h3v1h-3zM462 361h1v1h-1zM440 362h3v2h-3zM446 362h3v2h-3zM452 362h3v2h-3zM458 362h3v2h-3zM438 364h1v1h-1zM442 364h3v1h-3zM448 364h3v1h-3zM453 364h3v1h-3zM459 364h3v1h-3zM438 365h2v2h-2zM443 365h3v2h-3zM449 365h3v2h-3zM455 365h3v2h-3zM461 365h2v2h-2zM439 367h3v1h-3zM445 367h3v1h-3zM451 367h2v1h-2zM456 367h3v1h-3zM462 367h1v1h-1zM440 368h3v2h-3zM446 368h3v2h-3zM452 368h3v2h-3zM458 368h3v2h-3zM438 370h1v1h-1zM442 370h3v1h-3zM448 370h3v1h-3zM453 370h3v1h-3zM459 370h3v1h-3zM438 371h2v1h-2zM443 371h3v1h-3zM449 371h3v1h-3zM455 371h3v1h-3zM461 371h2v1h-2zM439 372h3v2h-3zM445 372h3v2h-3zM451 372h2v2h-2zM456 372h3v2h-3zM462 372h1v2h-1zM440 374h3v1h-3zM446 374h3v1h-3zM452 374h3v1h-3zM458 374h3v1h-3zM438 375h1v2h-1zM442 375h3v2h-3zM448 375h3v2h-3zM453 375h3v2h-3zM459 375h3v2h-3zM438 377h2v1h-2zM443 377h3v1h-3zM449 377h3v1h-3zM455 377h3v1h-3zM461 377h2v1h-2zM439 378h3v1h-3zM445 378h3v1h-3zM451 378h2v1h-2zM456 378h3v1h-3zM462 378h1v1h-1zM440 379h3v2h-3zM446 379h3v2h-3zM452 379h3v2h-3zM458 379h3v2h-3zM438 381h1v1h-1zM442 381h3v1h-3zM448 381h3v1h-3zM453 381h3v1h-3zM459 381h3v1h-3zM438 382h2v2h-2zM443 382h3v2h-3zM449 382h3v2h-3zM455 382h3v2h-3zM461 382h2v2h-2zM439 384h3v1h-3zM445 384h3v1h-3zM451 384h2v1h-2zM456 384h3v1h-3zM462 384h1v1h-1zM440 385h3v2h-3zM446 385h3v2h-3zM452 385h3v2h-3zM458 385h3v2h-3zM438 387h1v1h-1zM442 387h3v1h-3zM448 387h3v1h-3zM453 387h3v1h-3zM459 387h3v1h-3zM438 388h2v1h-2zM443 388h3v1h-3zM449 388h3v1h-3zM455 388h3v1h-3zM461 388h2v1h-2zM439 389h3v2h-3zM445 389h3v2h-3zM451 389h2v2h-2zM456 389h3v2h-3zM462 389h1v2h-1zM440 391h3v1h-3zM446 391h3v1h-3zM452 391h3v1h-3zM458 391h3v1h-3zM438 392h1v2h-1zM442 392h3v2h-3zM448 392h3v2h-3zM453 392h3v2h-3zM459 392h3v2h-3zM438 394h2v1h-2zM443 394h3v1h-3zM449 394h3v1h-3zM455 394h3v1h-3zM461 394h2v1h-2zM439 395h3v2h-3zM445 395h3v2h-3zM451 395h2v2h-2zM456 395h3v2h-3zM462 395h1v2h-1zM440 397h3v1h-3zM446 397h3v1h-3zM452 397h3v1h-3zM458 397h3v1h-3zM438 398h1v1h-1zM442 398h3v1h-3zM448 398h3v1h-3zM453 398h3v1h-3zM459 398h3v1h-3zM438 399h2v2h-2zM443 399h3v2h-3zM449 399h3v2h-3zM455 399h3v2h-3zM461 399h2v2h-2zM439 401h3v1h-3zM445 401h3v1h-3zM451 401h2v1h-2zM456 401h3v1h-3zM462 401h1v1h-1zM440 402h3v2h-3zM446 402h3v2h-3zM452 402h3v2h-3zM458 402h3v2h-3zM438 404h1v1h-1zM442 404h3v1h-3zM448 404h3v1h-3zM453 404h3v1h-3zM459 404h3v1h-3zM438 405h2v2h-2zM443 405h3v2h-3zM449 405h3v2h-3zM455 405h3v2h-3zM461 405h2v2h-2zM439 407h3v1h-3zM445 407h3v1h-3zM451 407h2v1h-2zM456 407h3v1h-3zM462 407h1v1h-1zM440 408h3v1h-3zM446 408h3v1h-3zM452 408h3v1h-3zM458 408h3v1h-3zM438 409h1v2h-1zM442 409h3v2h-3zM448 409h3v2h-3zM453 409h3v2h-3zM459 409h3v2h-3zM438 411h2v1h-2zM443 411h3v1h-3zM449 411h3v1h-3zM455 411h3v1h-3zM461 411h2v1h-2zM439 412h3v2h-3zM445 412h3v2h-3zM451 412h2v2h-2zM456 412h3v2h-3zM462 412h1v2h-1zM440 414h3v1h-3zM446 414h3v1h-3zM452 414h3v1h-3zM458 414h3v1h-3zM438 415h1v2h-1zM442 415h3v2h-3zM448 415h3v2h-3zM453 415h3v2h-3zM459 415h3v2h-3zM438 417h2v1h-2zM443 417h3v1h-3zM449 417h3v1h-3zM455 417h3v1h-3zM461 417h2v1h-2zM439 418h3v1h-3zM445 418h3v1h-3zM451 418h2v1h-2zM456 418h3v1h-3zM462 418h1v1h-1zM440 419h3v2h-3zM446 419h3v2h-3zM452 419h3v2h-3zM458 419h3v2h-3zM438 421h1v1h-1zM442 421h3v1h-3zM448 421h3v1h-3zM453 421h3v1h-3zM459 421h3v1h-3zM438 422h2v2h-2zM443 422h3v2h-3zM449 422h3v2h-3zM455 422h3v2h-3zM461 422h2v2h-2zM439 424h3v1h-3zM445 424h3v1h-3zM451 424h2v1h-2zM456 424h3v1h-3zM462 424h1v1h-1zM440 425h3v2h-3zM446 425h3v2h-3zM452 425h3v2h-3zM458 425h3v2h-3zM438 427h1v1h-1zM442 427h3v1h-3zM448 427h3v1h-3zM453 427h3v1h-3zM459 427h3v1h-3zM438 428h2v1h-2zM443 428h3v1h-3zM449 428h3v1h-3zM455 428h3v1h-3zM461 428h2v1h-2zM439 429h3v2h-3zM445 429h3v2h-3zM451 429h2v2h-2zM456 429h3v2h-3zM462 429h1v2h-1zM440 431h3v1h-3zM446 431h3v1h-3zM452 431h3v1h-3zM458 431h3v1h-3zM438 432h1v2h-1zM442 432h3v2h-3zM448 432h3v2h-3zM453 432h3v2h-3zM459 432h3v2h-3zM438 434h2v1h-2zM443 434h3v1h-3zM449 434h3v1h-3zM455 434h3v1h-3zM461 434h2v1h-2zM439 435h3v2h-3zM445 435h3v2h-3zM451 435h2v2h-2zM456 435h3v2h-3zM462 435h1v2h-1zM440 437h3v1h-3zM446 437h3v1h-3zM452 437h3v1h-3zM458 437h3v1h-3zM438 438h1v1h-1zM442 438h3v1h-3zM448 438h3v1h-3zM453 438h3v1h-3zM459 438h3v1h-3zM438 439h2v2h-2zM443 439h3v2h-3zM449 439h3v2h-3zM455 439h3v2h-3zM461 439h2v2h-2zM439 441h3v1h-3zM445 441h3v1h-3zM451 441h2v1h-2zM456 441h3v1h-3zM462 441h1v1h-1zM440 442h3v2h-3zM446 442h3v2h-3zM452 442h3v2h-3zM458 442h3v2h-3zM438 444h1v1h-1zM442 444h3v1h-3zM448 444h3v1h-3zM453 444h3v1h-3zM459 444h3v1h-3zM438 445h2v1h-2zM443 445h3v1h-3zM449 445h3v1h-3zM455 445h3v1h-3zM461 445h2v1h-2zM439 446h3v2h-3zM445 446h3v2h-3zM451 446h2v2h-2zM456 446h3v2h-3zM462 446h1v2h-1zM440 448h3v1h-3zM446 448h3v1h-3zM452 448h3v1h-3zM458 448h3v1h-3zM438 449h1v2h-1zM442 449h3v2h-3zM448 449h3v2h-3zM453 449h3v2h-3zM459 449h3v2h-3zM438 451h2v1h-2zM443 451h3v1h-3zM449 451h3v1h-3zM455 451h3v1h-3zM461 451h2v1h-2zM439 452h3v2h-3zM445 452h3v2h-3zM451 452h2v2h-2zM456 452h3v2h-3zM462 452h1v2h-1zM440 454h3v1h-3zM446 454h3v1h-3zM452 454h3v1h-3zM458 454h3v1h-3zM438 455h1v1h-1zM442 455h3v1h-3zM448 455h3v1h-3zM453 455h3v1h-3zM459 455h3v1h-3zM438 456h2v2h-2zM443 456h3v2h-3zM449 456h3v2h-3zM455 456h3v2h-3zM461 456h2v2h-2zM439 458h3v1h-3zM445 458h3v1h-3zM451 458h2v1h-2zM456 458h3v1h-3zM462 458h1v1h-1zM440 459h3v2h-3zM446 459h3v2h-3zM452 459h3v2h-3zM458 459h3v2h-3zM438 461h1v1h-1zM442 461h3v1h-3zM448 461h3v1h-3zM453 461h3v1h-3zM459 461h3v1h-3zM438 462h2v2h-2zM443 462h3v2h-3zM449 462h3v2h-3zM455 462h3v2h-3zM461 462h2v2h-2zM439 464h3v1h-3zM445 464h3v1h-3zM451 464h2v1h-2zM456 464h3v1h-3zM462 464h1v1h-1zM440 465h3v1h-3zM446 465h3v1h-3zM452 465h3v1h-3zM458 465h3v1h-3zM438 466h1v2h-1zM442 466h3v2h-3zM448 466h3v2h-3zM453 466h3v2h-3zM459 466h3v2h-3zM438 468h2v1h-2zM443 468h3v1h-3zM449 468h3v1h-3zM455 468h3v1h-3zM461 468h2v1h-2zM439 469h3v2h-3zM445 469h3v2h-3zM451 469h2v2h-2zM456 469h3v2h-3zM462 469h1v2h-1zM440 471h3v1h-3zM446 471h3v1h-3zM452 471h3v1h-3zM458 471h3v1h-3zM438 472h1v2h-1zM442 472h3v2h-3zM448 472h3v2h-3zM453 472h3v2h-3zM459 472h3v2h-3zM438 474h2v1h-2zM443 474h3v1h-3zM449 474h3v1h-3zM455 474h3v1h-3zM461 474h2v1h-2zM439 475h3v1h-3zM445 475h3v1h-3zM451 475h2v1h-2zM456 475h3v1h-3zM462 475h1v1h-1zM440 476h3v2h-3zM446 476h3v2h-3zM452 476h3v2h-3zM458 476h3v2h-3zM438 478h1v1h-1zM442 478h3v1h-3zM448 478h3v1h-3zM453 478h3v1h-3zM459 478h3v1h-3zM438 479h2v2h-2zM443 479h3v2h-3zM449 479h3v2h-3zM455 479h3v2h-3zM461 479h2v2h-2zM439 481h3v1h-3zM445 481h3v1h-3zM451 481h2v1h-2zM456 481h3v1h-3zM462 481h1v1h-1zM440 482h3v2h-3zM446 482h3v2h-3zM452 482h3v2h-3zM458 482h3v2h-3zM438 484h1v1h-1zM442 484h3v1h-3zM448 484h3v1h-3zM453 484h3v1h-3zM459 484h3v1h-3zM438 485h2v1h-2zM443 485h3v1h-3zM449 485h3v1h-3zM455 485h3v1h-3zM461 485h2v1h-2zM439 486h3v2h-3zM445 486h3v2h-3zM451 486h2v2h-2zM456 486h3v2h-3zM462 486h1v2h-1zM440 488h3v1h-3zM446 488h3v1h-3zM452 488h3v1h-3zM458 488h3v1h-3zM438 489h1v2h-1zM442 489h3v2h-3zM448 489h3v2h-3zM453 489h3v2h-3zM459 489h3v2h-3zM438 491h2v1h-2zM443 491h3v1h-3zM449 491h3v1h-3zM455 491h3v1h-3zM461 491h2v1h-2zM439 492h3v2h-3zM445 492h3v2h-3zM451 492h2v2h-2zM456 492h3v2h-3zM462 492h1v2h-1zM440 494h3v1h-3zM446 494h3v1h-3zM452 494h3v1h-3zM458 494h3v1h-3zM438 495h1v1h-1zM442 495h3v1h-3zM448 495h3v1h-3zM453 495h3v1h-3zM459 495h3v1h-3zM438 496h2v2h-2zM443 496h3v2h-3zM449 496h3v2h-3zM455 496h3v2h-3zM461 496h2v2h-2zM439 498h3v1h-3zM445 498h3v1h-3zM451 498h2v1h-2zM456 498h3v1h-3zM462 498h1v1h-1zM440 499h3v2h-3zM446 499h3v2h-3zM452 499h3v2h-3zM458 499h3v2h-3zM438 501h1v1h-1zM442 501h3v1h-3zM448 501h3v1h-3zM453 501h3v1h-3zM459 501h3v1h-3zM438 502h2v2h-2zM443 502h3v2h-3zM449 502h3v2h-3zM455 502h3v2h-3zM461 502h2v2h-2zM439 504h3v1h-3zM445 504h3v1h-3zM451 504h2v1h-2zM456 504h3v1h-3zM462 504h1v1h-1zM440 505h3v1h-3zM446 505h3v1h-3zM452 505h3v1h-3zM458 505h3v1h-3zM438 506h1v2h-1zM442 506h3v2h-3zM448 506h3v2h-3zM453 506h3v2h-3zM459 506h3v2h-3zM438 508h2v1h-2zM443 508h3v1h-3zM449 508h3v1h-3zM455 508h3v1h-3zM461 508h2v1h-2zM439 509h3v2h-3zM445 509h3v2h-3zM451 509h2v2h-2zM456 509h3v2h-3zM462 509h1v2h-1zM440 511h3v1h-3zM446 511h3v1h-3zM452 511h3v1h-3zM458 511h3v1h-3zM438 512h1v1h-1zM442 512h3v1h-3zM448 512h3v1h-3zM453 512h3v1h-3zM459 512h3v1h-3zM438 513h2v2h-2zM443 513h3v2h-3zM449 513h3v2h-3zM455 513h3v2h-3zM461 513h2v2h-2zM439 515h3v1h-3zM445 515h3v1h-3zM451 515h2v1h-2zM456 515h3v1h-3zM462 515h1v1h-1zM440 516h3v2h-3zM446 516h3v2h-3zM452 516h3v2h-3zM458 516h3v2h-3zM438 518h1v1h-1zM442 518h3v1h-3zM448 518h3v1h-3zM453 518h3v1h-3zM459 518h3v1h-3zM438 519h2v2h-2zM443 519h3v2h-3zM449 519h3v2h-3zM455 519h3v2h-3zM461 519h2v2h-2zM439 521h3v1h-3zM445 521h3v1h-3zM451 521h2v1h-2zM456 521h3v1h-3zM462 521h1v1h-1zM440 522h3v1h-3zM446 522h3v1h-3zM452 522h3v1h-3zM458 522h3v1h-3zM438 523h1v2h-1zM442 523h3v2h-3zM448 523h3v2h-3zM453 523h3v2h-3zM459 523h3v2h-3zM438 525h2v1h-2zM443 525h3v1h-3zM449 525h3v1h-3zM455 525h3v1h-3zM461 525h2v1h-2zM439 526h3v2h-3zM445 526h3v2h-3zM451 526h2v2h-2zM456 526h3v2h-3zM462 526h1v2h-1zM440 528h3v1h-3zM446 528h3v1h-3zM452 528h3v1h-3zM458 528h3v1h-3zM438 529h1v2h-1zM442 529h3v2h-3zM448 529h3v2h-3zM453 529h3v2h-3zM459 529h3v2h-3zM438 531h2v1h-2zM443 531h3v1h-3zM449 531h3v1h-3zM455 531h3v1h-3zM461 531h2v1h-2zM439 532h3v1h-3zM445 532h3v1h-3zM451 532h2v1h-2zM456 532h3v1h-3zM462 532h1v1h-1zM440 533h3v2h-3zM446 533h3v2h-3zM452 533h3v2h-3zM458 533h3v2h-3zM438 535h1v1h-1zM442 535h3v1h-3zM448 535h3v1h-3zM453 535h3v1h-3zM459 535h3v1h-3zM438 536h2v2h-2zM443 536h3v2h-3zM449 536h3v2h-3zM455 536h3v2h-3zM461 536h2v2h-2zM439 538h3v1h-3zM445 538h3v1h-3zM451 538h2v1h-2zM456 538h3v1h-3zM462 538h1v1h-1zM440 539h3v2h-3zM446 539h3v2h-3zM452 539h3v2h-3zM458 539h3v2h-3zM438 541h1v1h-1zM442 541h3v1h-3zM448 541h3v1h-3zM453 541h3v1h-3zM459 541h3v1h-3zM438 542h2v1h-2zM443 542h3v1h-3zM449 542h3v1h-3zM455 542h3v1h-3zM461 542h2v1h-2zM439 543h3v2h-3zM445 543h3v2h-3zM451 543h2v2h-2zM456 543h3v2h-3zM462 543h1v2h-1zM440 545h3v1h-3zM446 545h3v1h-3zM452 545h3v1h-3zM458 545h3v1h-3zM438 546h1v2h-1zM442 546h3v2h-3zM448 546h3v2h-3zM453 546h3v2h-3zM459 546h3v2h-3zM438 548h2v1h-2zM443 548h3v1h-3zM449 548h3v1h-3zM455 548h3v1h-3zM461 548h2v1h-2zM439 549h3v2h-3zM445 549h3v2h-3zM451 549h2v2h-2zM456 549h3v2h-3zM462 549h1v2h-1zM440 551h3v1h-3zM446 551h3v1h-3zM452 551h3v1h-3zM458 551h3v1h-3zM438 552h1v1h-1zM442 552h3v1h-3zM448 552h3v1h-3zM453 552h3v1h-3zM459 552h3v1h-3zM438 553h2v2h-2zM443 553h3v2h-3zM449 553h3v2h-3zM455 553h3v2h-3zM461 553h2v2h-2zM439 555h3v1h-3zM445 555h3v1h-3zM451 555h2v1h-2zM456 555h3v1h-3zM462 555h1v1h-1zM440 556h3v2h-3zM446 556h3v2h-3zM452 556h3v2h-3zM458 556h3v2h-3zM438 558h1v1h-1zM442 558h3v1h-3zM448 558h3v1h-3zM453 558h3v1h-3zM459 558h3v1h-3zM438 559h2v2h-2zM443 559h3v2h-3zM449 559h3v2h-3zM455 559h3v2h-3zM461 559h2v2h-2zM439 561h3v1h-3zM445 561h3v1h-3zM451 561h2v1h-2zM456 561h3v1h-3zM462 561h1v1h-1zM440 562h3v1h-3zM446 562h3v1h-3zM452 562h3v1h-3zM458 562h3v1h-3zM438 563h1v2h-1zM442 563h3v2h-3zM448 563h3v2h-3zM453 563h3v2h-3zM459 563h3v2h-3zM438 565h2v1h-2zM443 565h3v1h-3zM449 565h3v1h-3zM455 565h3v1h-3zM461 565h2v1h-2zM439 566h3v2h-3zM445 566h3v2h-3zM451 566h2v2h-2zM456 566h3v2h-3zM462 566h1v2h-1zM440 568h3v1h-3zM446 568h3v1h-3zM452 568h3v1h-3zM458 568h3v1h-3zM438 569h1v2h-1zM442 569h3v2h-3zM448 569h3v2h-3zM453 569h3v2h-3zM459 569h3v2h-3zM438 571h2v1h-2zM443 571h3v1h-3zM449 571h3v1h-3zM455 571h3v1h-3zM461 571h2v1h-2zM439 572h3v1h-3zM445 572h3v1h-3zM451 572h2v1h-2zM456 572h3v1h-3zM462 572h1v1h-1zM440 573h3v2h-3zM446 573h3v2h-3zM452 573h3v2h-3zM458 573h3v2h-3zM438 575h1v1h-1zM442 575h3v1h-3zM448 575h3v1h-3zM453 575h3v1h-3zM459 575h3v1h-3zM438 576h2v2h-2zM443 576h3v2h-3zM449 576h3v2h-3zM455 576h3v2h-3zM461 576h2v2h-2z"/>
<rect x="462.05" y="209.33" width="24.05" height="368.67" fill="#fff"/>
<path fill="#002060" shape-rendering="crispEdges" d="M464 209h1v1h-1zM469 209h2v1h-2zM475 209h2v1h-2zM481 209h1v1h-1zM466 211h2v2h-2zM478 211h1v2h-1zM464 214h1v2h-1zM469 214h2v2h-2zM475 214h2v2h-2zM481 214h1v2h-1zM472 217h2v1h-2zM484 217h1v1h-1zM464 220h1v1h-1zM469 220h2v1h-2zM475 220h2v1h-2zM481 220h1v1h-1zM466 223h2v1h-2zM478 223h1v1h-1zM464 226h1v1h-1zM469 226h2v1h-2zM475 226h2v1h-2zM481 226h1v1h-1zM472 228h2v2h-2zM484 228h1v2h-1zM464 231h1v2h-1zM469 231h2v2h-2zM475 231h2v2h-2zM481 231h1v2h-1zM466 234h2v2h-2zM478 234h1v2h-1zM464 237h1v1h-1zM469 237h2v1h-2zM475 237h2v1h-2zM481 237h1v1h-1zM472 240h2v1h-2zM484 240h1v1h-1zM464 243h1v1h-1zM469 243h2v1h-2zM475 243h2v1h-2zM481 243h1v1h-1zM466 245h2v2h-2zM478 245h1v2h-1zM464 248h1v2h-1zM469 248h2v2h-2zM475 248h2v2h-2zM481 248h1v2h-1zM472 251h2v2h-2zM484 251h1v2h-1zM464 254h1v1h-1zM469 254h2v1h-2zM475 254h2v1h-2zM481 254h1v1h-1zM466 257h2v1h-2zM478 257h1v1h-1zM464 260h1v1h-1zM469 260h2v1h-2zM475 260h2v1h-2zM481 260h1v1h-1zM472 263h2v1h-2zM484 263h1v1h-1zM464 265h1v2h-1zM469 265h2v2h-2zM475 265h2v2h-2zM481 265h1v2h-1zM466 268h2v2h-2zM478 268h1v2h-1zM464 271h1v2h-1zM469 271h2v2h-2zM475 271h2v2h-2zM481 271h1v2h-1zM472 274h2v1h-2zM484 274h1v1h-1zM464 277h1v1h-1zM469 277h2v1h-2zM475 277h2v1h-2zM481 277h1v1h-1zM466 280h2v1h-2zM478 280h1v1h-1zM464 283h1v1h-1zM469 283h2v1h-2zM475 283h2v1h-2zM481 283h1v1h-1zM472 285h2v2h-2zM484 285h1v2h-1zM464 288h1v2h-1zM469 288h2v2h-2zM475 288h2v2h-2zM481 288h1v2h-1zM466 291h2v2h-2zM478 291h1v2h-1zM464 294h1v1h-1zM469 294h2v1h-2zM475 294h2v1h-2zM481 294h1v1h-1zM472 297h2v1h-2zM484 297h1v1h-1zM464 300h1v1h-1zM469 300h2v1h-2zM475 300h2v1h-2zM481 300h1v1h-1zM466 303h2v1h-2zM478 303h1v1h-1zM464 305h1v2h-1zM469 305h2v2h-2zM475 305h2v2h-2zM481 305h1v2h-1zM472 308h2v2h-2zM484 308h1v2h-1zM464 311h1v1h-1zM469 311h2v1h-2zM475 311h2v1h-2zM481 311h1v1h-1zM466 314h2v1h-2zM478 314h1v1h-1zM464 317h1v1h-1zM469 317h2v1h-2zM475 317h2v1h-2zM481 317h1v1h-1zM472 320h2v1h-2zM484 320h1v1h-1zM464 322h1v2h-1zM469 322h2v2h-2zM475 322h2v2h-2zM481 322h1v2h-1zM466 325h2v2h-2zM478 325h1v2h-1zM464 328h1v2h-1zM469 328h2v2h-2zM475 328h2v2h-2zM481 328h1v2h-1zM472 331h2v1h-2zM484 331h1v1h-1zM464 334h1v1h-1zM469 334h2v1h-2zM475 334h2v1h-2zM481 334h1v1h-1zM466 337h2v1h-2zM478 337h1v1h-1zM464 340h1v1h-1zM469 340h2v1h-2zM475 340h2v1h-2zM481 340h1v1h-1zM472 342h2v2h-2zM484 342h1v2h-1zM464 345h1v2h-1zM469 345h2v2h-2zM475 345h2v2h-2zM481 345h1v2h-1zM466 348h2v2h-2zM478 348h1v2h-1zM464 351h1v1h-1zM469 351h2v1h-2zM475 351h2v1h-2zM481 351h1v1h-1zM472 354h2v1h-2zM484 354h1v1h-1zM464 357h1v1h-1zM469 357h2v1h-2zM475 357h2v1h-2zM481 357h1v1h-1zM466 360h2v1h-2zM478 360h1v1h-1zM464 362h1v2h-1zM469 362h2v2h-2zM475 362h2v2h-2zM481 362h1v2h-1zM472 365h2v2h-2zM484 365h1v2h-1zM464 368h1v2h-1zM469 368h2v2h-2zM475 368h2v2h-2zM481 368h1v2h-1zM466 371h2v1h-2zM478 371h1v1h-1zM464 374h1v1h-1zM469 374h2v1h-2zM475 374h2v1h-2zM481 374h1v1h-1zM472 377h2v1h-2zM484 377h1v1h-1zM464 379h1v2h-1zM469 379h2v2h-2zM475 379h2v2h-2zM481 379h1v2h-1zM466 382h2v2h-2zM478 382h1v2h-1zM464 385h1v2h-1zM469 385h2v2h-2zM475 385h2v2h-2zM481 385h1v2h-1zM472 388h2v1h-2zM484 388h1v1h-1zM464 391h1v1h-1zM469 391h2v1h-2zM475 391h2v1h-2zM481 391h1v1h-1zM466 394h2v1h-2zM478 394h1v1h-1zM464 397h1v1h-1zM469 397h2v1h-2zM475 397h2v1h-2zM481 397h1v1h-1zM472 399h2v2h-2zM484 399h1v2h-1zM464 402h1v2h-1zM469 402h2v2h-2zM475 402h2v2h-2zM481 402h1v2h-1zM466 405h2v2h-2zM478 405h1v2h-1zM464 408h1v1h-1zM469 408h2v1h-2zM475 408h2v1h-2zM481 408h1v1h-1zM472 411h2v1h-2zM484 411h1v1h-1zM464 414h1v1h-1zM469 414h2v1h-2zM475 414h2v1h-2zM481 414h1v1h-1zM466 417h2v1h-2zM478 417h1v1h-1zM464 419h1v2h-1zM469 419h2v2h-2zM475 419h2v2h-2zM481 419h1v2h-1zM472 422h2v2h-2zM484 422h1v2h-1zM464 425h1v2h-1zM469 425h2v2h-2zM475 425h2v2h-2zM481 425h1v2h-1zM466 428h2v1h-2zM478 428h1v1h-1zM464 431h1v1h-1zM469 431h2v1h-2zM475 431h2v1h-2zM481 431h1v1h-1zM472 434h2v1h-2zM484 434h1v1h-1zM464 437h1v1h-1zM469 437h2v1h-2zM475 437h2v1h-2zM481 437h1v1h-1zM466 439h2v2h-2zM478 439h1v2h-1zM464 442h1v2h-1zM469 442h2v2h-2zM475 442h2v2h-2zM481 442h1v2h-1zM472 445h2v1h-2zM484 445h1v1h-1zM464 448h1v1h-1zM469 448h2v1h-2zM475 448h2v1h-2zM481 448h1v1h-1zM466 451h2v1h-2zM478 451h1v1h-1zM464 454h1v1h-1zM469 454h2v1h-2zM475 454h2v1h-2zM481 454h1v1h-1zM472 456h2v2h-2zM484 456h1v2h-1zM464 459h1v2h-1zM469 459h2v2h-2zM475 459h2v2h-2zM481 459h1v2h-1zM466 462h2v2h-2zM478 462h1v2h-1zM464 465h1v1h-1zM469 465h2v1h-2zM475 465h2v1h-2zM481 465h1v1h-1zM472 468h2v1h-2zM484 468h1v1h-1zM464 471h1v1h-1zM469 471h2v1h-2zM475 471h2v1h-2zM481 471h1v1h-1zM466 474h2v1h-2zM478 474h1v1h-1zM464 476h1v2h-1zM469 476h2v2h-2zM475 476h2v2h-2zM481 476h1v2h-1zM472 479h2v2h-2zM484 479h1v2h-1zM464 482h1v2h-1zM469 482h2v2h-2zM475 482h2v2h-2zM481 482h1v2h-1zM466 485h2v1h-2zM478 485h1v1h-1zM464 488h1v1h-1zM469 488h2v1h-2zM475 488h2v1h-2zM481 488h1v1h-1zM472 491h2v1h-2zM484 491h1v1h-1zM464 494h1v1h-1zM469 494h2v1h-2zM475 494h2v1h-2zM481 494h1v1h-1zM466 496h2v2h-2zM478 496h1v2h-1zM464 499h1v2h-1zM469 499h2v2h-2zM475 499h2v2h-2zM481 499h1v2h-1zM472 502h2v2h-2zM484 502h1v2h-1zM464 505h1v1h-1zM469 505h2v1h-2zM475 505h2v1h-2zM481 505h1v1h-1zM466 508h2v1h-2zM478 508h1v1h-1zM464 511h1v1h-1zM469 511h2v1h-2zM475 511h2v1h-2zM481 511h1v1h-1zM472 513h2v2h-2zM484 513h1v2h-1zM464 516h1v2h-1zM469 516h2v2h-2zM475 516h2v2h-2zM481 516h1v2h-1zM466 519h2v2h-2zM478 519h1v2h-1zM464 522h1v1h-1zM469 522h2v1h-2zM475 522h2v1h-2zM481 522h1v1h-1zM472 525h2v1h-2zM484 525h1v1h-1zM464 528h1v1h-1zM469 528h2v1h-2zM475 528h2v1h-2zM481 528h1v1h-1zM466 531h2v1h-2zM478 531h1v1h-1zM464 533h1v2h-1zM469 533h2v2h-2zM475 533h2v2h-2zM481 533h1v2h-1zM472 536h2v2h-2zM484 536h1v2h-1zM464 539h1v2h-1zM469 539h2v2h-2zM475 539h2v2h-2zM481 539h1v2h-1zM466 542h2v1h-2zM478 542h1v1h-1zM464 545h1v1h-1zM469 545h2v1h-2zM475 545h2v1h-2zM481 545h1v1h-1zM472 548h2v1h-2zM484 548h1v1h-1zM464 551h1v1h-1zM469 551h2v1h-2zM475 551h2v1h-2zM481 551h1v1h-1zM466 553h2v2h-2zM478 553h1v2h-1zM464 556h1v2h-1zM469 556h2v2h-2zM475 556h2v2h-2zM481 556h1v2h-1zM472 559h2v2h-2zM484 559h1v2h-1zM464 562h1v1h-1zM469 562h2v1h-2zM475 562h2v1h-2zM481 562h1v1h-1zM466 565h2v1h-2zM478 565h1v1h-1zM464 568h1v1h-1zM469 568h2v1h-2zM475 568h2v1h-2zM481 568h1v1h-1zM472 571h2v1h-2zM484 571h1v1h-1zM464 573h1v2h-1zM469 573h2v2h-2zM475 573h2v2h-2zM481 573h1v2h-1zM466 576h2v2h-2zM478 576h1v2h-1z"/>
<path d="M438.8,578 V301.88 H462.05 V578" fill="none" stroke="#000" stroke-width="1.9"/>
<path d="M462.05,578 V209.33 H486.1 V578" fill="none" stroke="#000" stroke-width="1.9"/>
<rect x="437.80" y="578.9" width="49.30" height="1.15" fill="#000"/>
<text x="403.00" y="604.00" font-size="17" textLength="70.20" lengthAdjust="spacing">Provincial</text>
<rect x="537.5" y="429.32" width="24" height="148.68" fill="#9dc3e6"/>
<rect x="561.5" y="506.69" width="24.0" height="71.31" fill="#002060"/>
<path d="M537.5,578 V429.32 H561.5 V578" fill="none" stroke="#000" stroke-width="1"/>
<path d="M561.5,578 V506.69 H585.5 V578" fill="none" stroke="#000" stroke-width="1"/>
<rect x="585.15" y="520.35" width="24.05" height="57.65" fill="#fff"/>
<path fill="#002060" shape-rendering="crispEdges" d="M588 520h3v1h-3zM594 520h3v1h-3zM600 520h3v1h-3zM605 520h3v1h-3zM585 521h2v1h-2zM589 521h3v1h-3zM595 521h3v1h-3zM601 521h3v1h-3zM607 521h3v1h-3zM585 522h3v1h-3zM591 522h3v1h-3zM597 522h3v1h-3zM603 522h2v1h-2zM608 522h2v1h-2zM587 523h2v2h-2zM592 523h3v2h-3zM598 523h3v2h-3zM604 523h3v2h-3zM588 525h3v1h-3zM594 525h3v1h-3zM600 525h3v1h-3zM605 525h3v1h-3zM585 526h2v2h-2zM589 526h3v2h-3zM595 526h3v2h-3zM601 526h3v2h-3zM607 526h3v2h-3zM585 528h3v1h-3zM591 528h3v1h-3zM597 528h3v1h-3zM603 528h2v1h-2zM608 528h2v1h-2zM587 529h2v2h-2zM592 529h3v2h-3zM598 529h3v2h-3zM604 529h3v2h-3zM588 531h3v1h-3zM594 531h3v1h-3zM600 531h3v1h-3zM605 531h3v1h-3zM585 532h2v1h-2zM589 532h3v1h-3zM595 532h3v1h-3zM601 532h3v1h-3zM607 532h3v1h-3zM585 533h3v2h-3zM591 533h3v2h-3zM597 533h3v2h-3zM603 533h2v2h-2zM608 533h2v2h-2zM587 535h2v1h-2zM592 535h3v1h-3zM598 535h3v1h-3zM604 535h3v1h-3zM588 536h3v2h-3zM594 536h3v2h-3zM600 536h3v2h-3zM605 536h3v2h-3zM585 538h2v1h-2zM589 538h3v1h-3zM595 538h3v1h-3zM601 538h3v1h-3zM607 538h3v1h-3zM585 539h3v2h-3zM591 539h3v2h-3zM597 539h3v2h-3zM603 539h2v2h-2zM608 539h2v2h-2zM587 541h2v1h-2zM592 541h3v1h-3zM598 541h3v1h-3zM604 541h3v1h-3zM588 542h3v1h-3zM594 542h3v1h-3zM600 542h3v1h-3zM605 542h3v1h-3zM585 543h2v2h-2zM589 543h3v2h-3zM595 543h3v2h-3zM601 543h3v2h-3zM607 543h3v2h-3zM585 545h3v1h-3zM591 545h3v1h-3zM597 545h3v1h-3zM603 545h2v1h-2zM608 545h2v1h-2zM587 546h2v2h-2zM592 546h3v2h-3zM598 546h3v2h-3zM604 546h3v2h-3zM588 548h3v1h-3zM594 548h3v1h-3zM600 548h3v1h-3zM605 548h3v1h-3zM585 549h2v2h-2zM589 549h3v2h-3zM595 549h3v2h-3zM601 549h3v2h-3zM607 549h3v2h-3zM585 551h3v1h-3zM591 551h3v1h-3zM597 551h3v1h-3zM603 551h2v1h-2zM608 551h2v1h-2zM587 552h2v1h-2zM592 552h3v1h-3zM598 552h3v1h-3zM604 552h3v1h-3zM588 553h3v2h-3zM594 553h3v2h-3zM600 553h3v2h-3zM605 553h3v2h-3zM585 555h2v1h-2zM589 555h3v1h-3zM595 555h3v1h-3zM601 555h3v1h-3zM607 555h3v1h-3zM585 556h3v2h-3zM591 556h3v2h-3zM597 556h3v2h-3zM603 556h2v2h-2zM608 556h2v2h-2zM587 558h2v1h-2zM592 558h3v1h-3zM598 558h3v1h-3zM604 558h3v1h-3zM588 559h3v2h-3zM594 559h3v2h-3zM600 559h3v2h-3zM605 559h3v2h-3zM585 561h2v1h-2zM589 561h3v1h-3zM595 561h3v1h-3zM601 561h3v1h-3zM607 561h3v1h-3zM585 562h3v1h-3zM591 562h3v1h-3zM597 562h3v1h-3zM603 562h2v1h-2zM608 562h2v1h-2zM587 563h2v2h-2zM592 563h3v2h-3zM598 563h3v2h-3zM604 563h3v2h-3zM588 565h3v1h-3zM594 565h3v1h-3zM600 565h3v1h-3zM605 565h3v1h-3zM585 566h2v2h-2zM589 566h3v2h-3zM595 566h3v2h-3zM601 566h3v2h-3zM607 566h3v2h-3zM585 568h3v1h-3zM591 568h3v1h-3zM597 568h3v1h-3zM603 568h2v1h-2zM608 568h2v1h-2zM587 569h2v2h-2zM592 569h3v2h-3zM598 569h3v2h-3zM604 569h3v2h-3zM588 571h3v1h-3zM594 571h3v1h-3zM600 571h3v1h-3zM605 571h3v1h-3zM585 572h2v1h-2zM589 572h3v1h-3zM595 572h3v1h-3zM601 572h3v1h-3zM607 572h3v1h-3zM585 573h3v2h-3zM591 573h3v2h-3zM597 573h3v2h-3zM603 573h2v2h-2zM608 573h2v2h-2zM587 575h2v1h-2zM592 575h3v1h-3zM598 575h3v1h-3zM604 575h3v1h-3zM588 576h3v2h-3zM594 576h3v2h-3zM600 576h3v2h-3zM605 576h3v2h-3z"/>
<rect x="609.2" y="488.49" width="23.90" height="89.51" fill="#fff"/>
<path fill="#002060" shape-rendering="crispEdges" d="M609 488h1v1h-1zM614 488h2v1h-2zM620 488h1v1h-1zM626 488h1v1h-1zM631 488h2v1h-2zM611 491h2v1h-2zM623 491h1v1h-1zM609 494h1v1h-1zM614 494h2v1h-2zM620 494h1v1h-1zM626 494h1v1h-1zM631 494h2v1h-2zM617 496h1v2h-1zM629 496h1v2h-1zM609 499h1v2h-1zM614 499h2v2h-2zM620 499h1v2h-1zM626 499h1v2h-1zM631 499h2v2h-2zM611 502h2v2h-2zM623 502h1v2h-1zM609 505h1v1h-1zM614 505h2v1h-2zM620 505h1v1h-1zM626 505h1v1h-1zM631 505h2v1h-2zM617 508h1v1h-1zM629 508h1v1h-1zM609 511h1v1h-1zM614 511h2v1h-2zM620 511h1v1h-1zM626 511h1v1h-1zM631 511h2v1h-2zM611 513h2v2h-2zM623 513h1v2h-1zM609 516h1v2h-1zM614 516h2v2h-2zM620 516h1v2h-1zM626 516h1v2h-1zM631 516h2v2h-2zM617 519h1v2h-1zM629 519h1v2h-1zM609 522h1v1h-1zM614 522h2v1h-2zM620 522h1v1h-1zM626 522h1v1h-1zM631 522h2v1h-2zM611 525h2v1h-2zM623 525h1v1h-1zM609 528h1v1h-1zM614 528h2v1h-2zM620 528h1v1h-1zM626 528h1v1h-1zM631 528h2v1h-2zM617 531h1v1h-1zM629 531h1v1h-1zM609 533h1v2h-1zM614 533h2v2h-2zM620 533h1v2h-1zM626 533h1v2h-1zM631 533h2v2h-2zM611 536h2v2h-2zM623 536h1v2h-1zM609 539h1v2h-1zM614 539h2v2h-2zM620 539h1v2h-1zM626 539h1v2h-1zM631 539h2v2h-2zM617 542h1v1h-1zM629 542h1v1h-1zM609 545h1v1h-1zM614 545h2v1h-2zM620 545h1v1h-1zM626 545h1v1h-1zM631 545h2v1h-2zM611 548h2v1h-2zM623 548h1v1h-1zM609 551h1v1h-1zM614 551h2v1h-2zM620 551h1v1h-1zM626 551h1v1h-1zM631 551h2v1h-2zM617 553h1v2h-1zM629 553h1v2h-1zM609 556h1v2h-1zM614 556h2v2h-2zM620 556h1v2h-1zM626 556h1v2h-1zM631 556h2v2h-2zM611 559h2v2h-2zM623 559h1v2h-1zM609 562h1v1h-1zM614 562h2v1h-2zM620 562h1v1h-1zM626 562h1v1h-1zM631 562h2v1h-2zM617 565h1v1h-1zM629 565h1v1h-1zM609 568h1v1h-1zM614 568h2v1h-2zM620 568h1v1h-1zM626 568h1v1h-1zM631 568h2v1h-2zM611 571h2v1h-2zM623 571h1v1h-1zM609 573h1v2h-1zM614 573h2v2h-2zM620 573h1v2h-1zM626 573h1v2h-1zM631 573h2v2h-2zM617 576h1v2h-1zM629 576h1v2h-1z"/>
<path d="M585.15,578 V520.35 H609.2 V578" fill="none" stroke="#000" stroke-width="1.9"/>
<path d="M609.2,578 V488.49 H633.1 V578" fill="none" stroke="#000" stroke-width="1.9"/>
<rect x="584.15" y="578.9" width="49.95" height="1.15" fill="#000"/>
<text x="553.50" y="604.00" font-size="17" textLength="61.70" lengthAdjust="spacing">Nacional</text>
<rect x="684.5" y="564.35" width="24" height="13.65" fill="#9dc3e6"/>
<rect x="708.5" y="570.41" width="25.0" height="7.59" fill="#002060"/>
<path d="M684.5,578 V564.35 H708.5 V578" fill="none" stroke="#000" stroke-width="1"/>
<path d="M708.5,578 V570.41 H733.5 V578" fill="none" stroke="#000" stroke-width="1"/>
<rect x="733.15" y="574.97" width="24.10" height="3.03" fill="#fff"/>
<path fill="#002060" shape-rendering="crispEdges" d="M736 574h3v1h-3zM741 574h3v1h-3zM747 574h3v1h-3zM753 574h3v1h-3zM733 575h1v1h-1zM737 575h3v1h-3zM743 575h3v1h-3zM749 575h3v1h-3zM755 575h2v1h-2zM733 576h3v2h-3zM739 576h2v2h-2zM744 576h3v2h-3zM750 576h3v2h-3zM756 576h2v2h-2z"/>
<rect x="757.25" y="571.93" width="22.95" height="6.07" fill="#fff"/>
<path fill="#002060" shape-rendering="crispEdges" d="M762 571h1v1h-1zM773 571h2v1h-2zM759 573h1v2h-1zM765 573h1v2h-1zM770 573h2v2h-2zM776 573h2v2h-2zM768 576h1v2h-1zM779 576h2v2h-2z"/>
<path d="M733.15,578 V574.97 H757.25 V578" fill="none" stroke="#000" stroke-width="1.9"/>
<path d="M757.25,578 V571.93 H780.2 V578" fill="none" stroke="#000" stroke-width="1.9"/>
<rect x="732.15" y="578.9" width="49.05" height="1.15" fill="#000"/>
<text x="675.70" y="604.00" font-size="17" textLength="112.70" lengthAdjust="spacing">Nac. y prov. y/o</text>
<text x="708.10" y="623.30" font-size="17" textLength="48.00" lengthAdjust="spacing">munic.</text>
<rect x="287.30" y="620.80" width="9.20" height="9.50" fill="#9dc3e6" stroke="#000" stroke-width="1"/>
<text x="301.30" y="631.80" font-size="18.3" textLength="37.70" lengthAdjust="spacing">2019</text>
<rect x="354.50" y="620.80" width="9.50" height="9.50" fill="#002060" stroke="#000" stroke-width="1"/>
<text x="368.10" y="631.80" font-size="18.3" textLength="38.40" lengthAdjust="spacing">2020</text>
<rect x="421.10" y="621.20" width="9.80" height="8.70" fill="#fff" stroke="#000" stroke-width="1.8"/>
<path fill="#002060" shape-rendering="crispEdges" d="M422 622h1v1h-1zM426 622h3v1h-3zM422 623h2v2h-2zM427 623h3v2h-3zM423 625h3v1h-3zM429 625h1v1h-1zM424 626h3v2h-3zM422 628h1v1h-1zM426 628h3v1h-3z"/>
<text x="435.20" y="631.80" font-size="18.3" textLength="37.20" lengthAdjust="spacing">2021</text>
<rect x="489.10" y="621.20" width="9.00" height="8.70" fill="#fff" stroke="#000" stroke-width="1.8"/>
<path fill="#002060" shape-rendering="crispEdges" d="M490 622h1v1h-1zM493 625h1v1h-1zM495 628h2v1h-2z"/>
<text x="502.90" y="631.80" font-size="18.3" textLength="38.40" lengthAdjust="spacing">2022</text>
<text x="252.2" y="-2.3" font-size="17">(</text>
<text x="413.6" y="-2.3" font-size="17">)</text>
<text x="436.6" y="-2.3" font-size="17">(</text>
<text x="578.8" y="-2.3" font-size="17">)</text>
<polygon points="91.83,123.88 100.15,117.33 104.41,122.75 112.10,106.00 94.02,109.55 98.29,114.97 89.97,121.52" fill="#002060"/>
<polygon points="240.80,552.26 258.81,545.83 261.13,552.33 273.75,538.90 255.48,536.51 257.80,543.00 239.80,549.44" fill="#002060"/>
</svg></body></html>
